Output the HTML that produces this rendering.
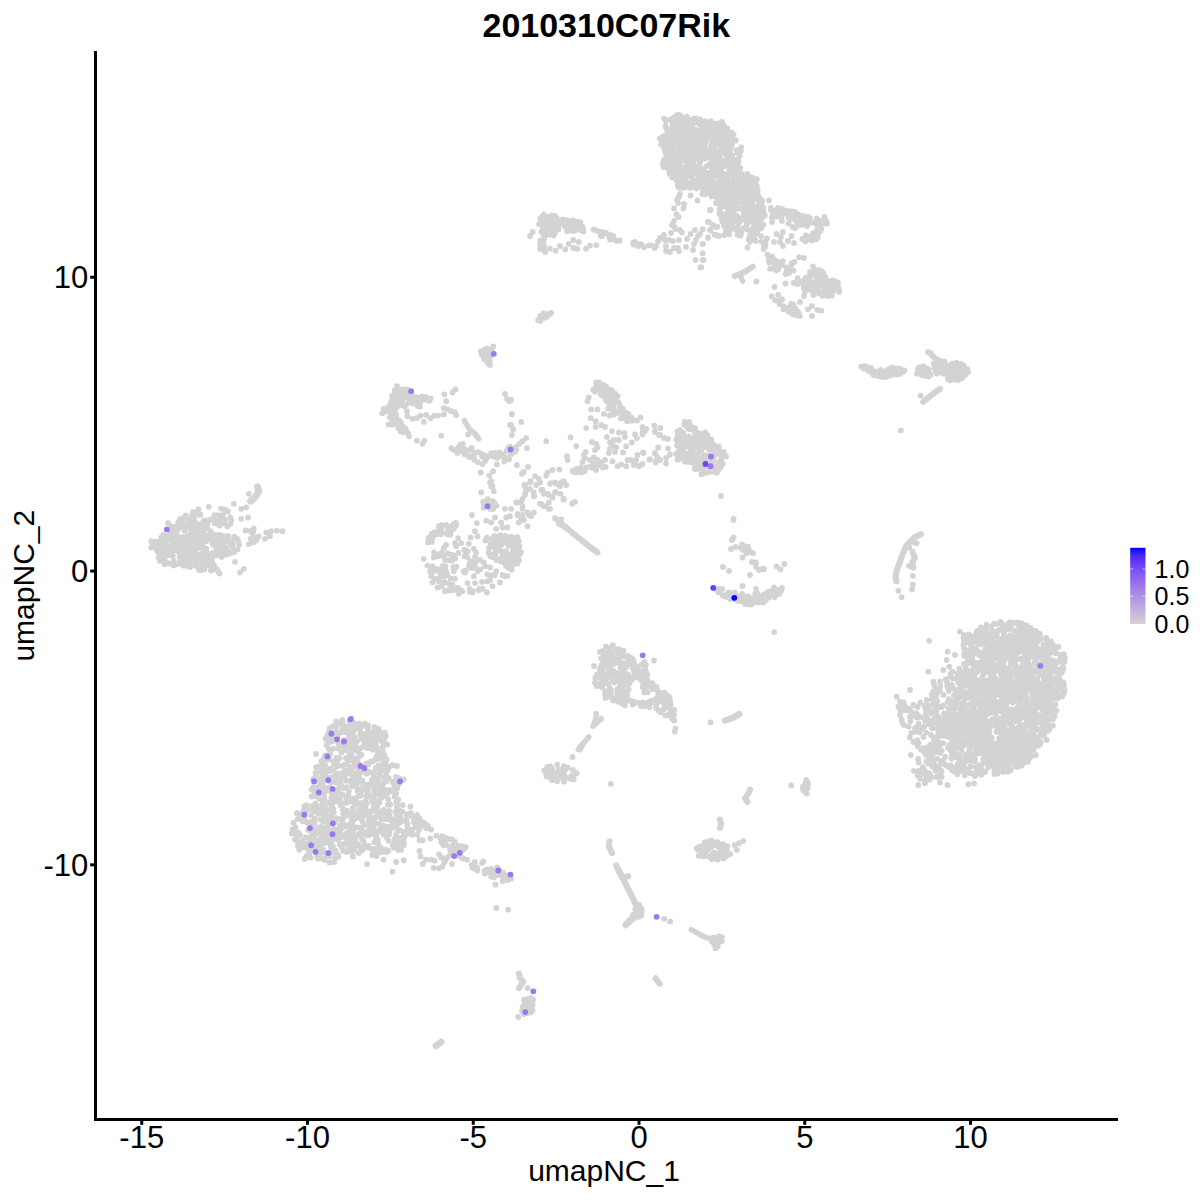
<!DOCTYPE html>
<html><head><meta charset="utf-8"><title>2010310C07Rik</title>
<style>html,body{margin:0;padding:0;background:#fff;} svg{display:block;}</style></head>
<body><svg width="1200" height="1200" viewBox="0 0 1200 1200">
<rect width="1200" height="1200" fill="#fff"/>
<g fill="#D3D3D3" stroke="none">
</g>
<g fill="none" stroke="#D3D3D3" stroke-linecap="round" stroke-linejoin="round">
<polyline stroke-width="6.0" points="734.7,276.0 740.0,274.0 746.7,270.7 752.7,266.7"/>
<polyline stroke-width="5.3" points="740.0,274.7 742.7,281.3"/>
<polyline stroke-width="5.6" points="593.3,229.3 600.0,232.0 605.3,232.7 610.7,237.3 616.0,240.7 619.3,240.7"/>
<polyline stroke-width="5.6" points="633.3,242.7 637.3,245.3 640.7,244.0 644.0,247.3"/>
<polyline stroke-width="6.0" points="923.1,401.9 930.0,396.2 935.0,392.5 940.0,388.8"/>
<polyline stroke-width="5.6" points="464.4,420.6 467.5,426.2 470.0,430.0 475.0,433.8 478.8,438.8"/>
<polyline stroke-width="6.0" points="560.0,522.9 567.5,528.8 575.0,535.0 583.3,541.7 591.7,548.3 597.5,552.5"/>
<polyline stroke-width="6.7" points="559.2,523.3 565.0,526.7"/>
<polyline stroke-width="6.9" points="250.6,501.2 255.0,497.5 258.8,491.2 257.5,486.9"/>
<polyline stroke-width="6.2" points="920.8,534.2 915.0,537.1 910.0,541.7 905.8,546.7 903.3,552.5 901.2,558.3 898.8,565.0 896.7,570.8 895.4,576.7 896.5,581.2"/>
<polyline stroke-width="5.8" points="911.7,540.8 916.7,543.3"/>
<polyline stroke-width="6.0" points="912.5,551.7 915.0,558.3 912.5,561.7 913.3,567.5"/>
<polyline stroke-width="6.0" points="909.2,565.8 913.3,567.5"/>
<polyline stroke-width="5.0" points="596.5,713.5 595.0,720.0 593.0,726.0"/>
<polyline stroke-width="5.0" points="601.0,718.5 597.0,723.0"/>
<polyline stroke-width="5.0" points="588.5,737.0 584.0,743.0 580.0,750.0"/>
<polyline stroke-width="6.5" points="725.0,720.5 732.5,718.0 739.2,714.2"/>
<polyline stroke-width="6.0" points="750.0,789.5 748.8,793.0 745.0,798.2 747.5,802.0"/>
<polyline stroke-width="6.0" points="720.0,819.5 721.2,823.8 720.0,828.0"/>
<polyline stroke-width="6.0" points="609.5,841.2 608.8,846.2 612.0,853.0"/>
<polyline stroke-width="6.0" points="616.2,865.5 620.0,872.5 622.5,878.0 628.0,876.2"/>
<polyline stroke-width="5.5" points="578.2,749.5 582.5,743.8 588.8,737.0"/>
<polyline stroke-width="5.5" points="593.0,726.2 597.5,722.0"/>
<polyline stroke-width="6.1" points="618.7,871.1 624.1,880.8 628.4,889.5 632.8,898.2 637.1,906.8 636.0,913.3 631.7,919.8 625.6,925.3"/>
<polyline stroke-width="5.6" points="691.3,929.6 698.9,933.9 705.4,937.2 711.9,939.3"/>
<polyline stroke-width="6.1" points="655.5,978.3 659.8,983.8"/>
<polyline stroke-width="6.1" points="519.0,973.6 520.1,978.3 523.3,981.6 519.0,988.1"/>
<polyline stroke-width="6.6" points="435.8,1045.9 441.2,1042.0"/>
</g>
<path fill="none" stroke="#D3D3D3" stroke-width="5.8" stroke-linecap="round" d="M697.5 134.8h0M717.8 131.3h0M672.4 160.8h0M716.4 152.3h0M711.4 129.8h0M733.5 134.4h0M749.0 197.4h0M678.0 124.6h0M719.0 193.7h0M683.5 170.6h0M732.5 203.3h0M742.0 174.0h0M678.7 177.7h0M760.6 204.1h0M675.1 138.6h0M715.0 130.8h0M692.9 119.1h0M761.8 213.7h0M740.6 197.6h0M697.4 187.4h0M737.8 166.0h0M693.1 180.0h0M731.4 174.2h0M667.8 131.7h0M676.4 145.1h0M714.8 170.2h0M710.6 133.8h0M722.0 200.4h0M669.5 168.6h0M700.2 133.1h0M729.5 170.0h0M685.2 158.6h0M730.7 149.0h0M666.6 163.7h0M679.7 181.2h0M680.4 128.4h0M689.6 172.2h0M730.8 186.6h0M703.5 153.3h0M712.7 176.1h0M730.1 157.4h0M705.8 142.5h0M735.3 165.9h0M686.9 116.9h0M729.1 181.7h0M721.5 134.2h0M734.1 205.6h0M667.4 146.4h0M679.1 122.6h0M740.9 150.8h0M669.9 129.9h0M680.8 175.6h0M669.1 171.0h0M716.1 185.1h0M701.7 170.6h0M727.7 208.0h0M672.5 175.1h0M665.5 125.7h0M691.3 137.3h0M665.7 137.6h0M676.3 177.6h0M755.2 183.2h0M738.5 174.6h0M672.2 142.6h0M682.8 153.9h0M748.5 213.0h0M753.4 212.6h0M697.4 157.1h0M690.8 175.2h0M718.2 182.8h0M741.6 182.1h0M712.7 192.0h0M751.9 189.1h0M685.3 123.8h0M717.5 199.4h0M691.1 144.8h0M681.2 156.5h0M726.0 192.8h0M703.0 190.1h0M687.0 147.9h0M702.0 156.4h0M669.1 156.1h0M683.2 181.1h0M729.3 212.9h0M699.4 147.6h0M724.0 148.1h0M663.7 140.4h0M721.3 163.5h0M695.3 156.3h0M711.8 167.1h0M744.6 178.4h0M669.6 133.9h0M730.1 195.7h0M720.0 184.6h0M722.8 216.8h0M725.5 139.3h0M674.1 135.1h0M755.8 212.8h0M758.9 201.5h0M673.9 117.6h0M698.4 176.7h0M710.1 125.1h0M736.4 194.3h0M694.8 136.8h0M679.7 149.7h0M708.2 173.7h0M716.9 128.1h0M712.8 153.8h0M700.8 135.7h0M725.4 132.2h0M727.6 177.4h0M757.7 191.8h0M705.8 126.9h0M686.1 128.1h0M735.8 182.9h0M703.5 144.0h0M742.2 186.6h0M727.8 174.4h0M740.8 177.7h0M686.7 154.3h0M708.4 177.6h0M695.6 168.8h0M741.2 201.9h0M722.1 138.2h0M705.2 121.4h0M699.0 130.7h0M693.3 164.7h0M701.8 129.4h0M730.0 152.5h0M722.1 122.0h0M680.4 125.0h0M684.3 142.9h0M679.0 158.0h0M702.8 149.7h0M699.7 143.4h0M732.8 215.1h0M727.0 201.9h0M712.8 160.9h0M676.6 130.5h0M702.1 173.1h0M709.8 193.2h0M718.4 123.4h0M734.8 176.1h0M684.5 152.1h0M729.7 161.3h0M737.7 218.9h0M728.1 186.1h0M724.1 134.9h0M692.2 150.8h0M743.2 200.0h0M755.2 209.8h0M659.9 138.6h0M719.5 138.9h0M747.0 193.7h0M737.3 216.2h0M732.3 218.3h0M707.5 128.5h0M693.4 160.9h0M726.7 151.7h0M699.2 160.1h0M725.5 174.1h0M686.9 166.6h0M742.9 209.6h0M748.6 200.6h0M684.6 120.6h0M720.6 197.2h0M729.4 210.6h0M669.1 148.6h0M720.0 174.0h0M750.7 208.0h0M757.2 219.4h0M696.4 138.2h0M754.6 191.1h0M743.8 213.9h0M691.8 141.7h0M731.5 221.4h0M717.9 159.4h0M665.5 135.2h0M711.8 189.2h0M726.8 157.2h0M727.7 204.5h0M733.7 195.7h0M688.6 124.9h0M719.0 151.2h0M666.7 149.5h0M714.4 123.7h0M753.5 199.5h0M749.0 221.9h0M733.3 179.6h0M699.3 168.3h0M737.0 204.9h0M685.0 183.8h0M737.7 184.8h0M705.2 147.5h0M688.1 143.3h0M731.3 199.3h0M725.6 142.1h0M668.6 141.8h0M714.4 148.7h0M689.3 150.1h0M720.4 132.1h0M737.1 152.8h0M685.2 177.2h0M705.1 182.6h0M709.4 131.1h0M690.8 134.6h0M735.7 169.6h0M721.1 148.8h0M731.7 145.8h0M673.2 147.1h0M744.7 187.0h0M704.5 158.8h0M712.2 142.7h0M722.3 172.8h0M724.6 185.6h0M740.4 168.1h0M686.7 136.6h0M687.8 157.4h0M691.3 167.9h0M677.4 118.4h0M705.0 186.7h0M720.4 180.2h0M719.8 161.8h0M709.0 122.6h0M737.0 197.0h0M723.8 214.7h0M674.9 156.5h0M710.2 152.3h0M696.9 122.7h0M695.7 129.7h0M673.8 154.2h0M747.2 184.2h0M722.0 193.5h0M754.7 217.0h0M679.4 187.7h0M705.8 172.9h0M744.1 219.5h0M690.1 152.6h0M679.3 137.3h0M738.7 161.7h0M752.8 222.0h0M744.9 205.8h0M664.1 118.7h0M703.8 168.6h0M680.2 170.5h0M748.5 191.8h0M668.3 153.0h0M692.0 155.5h0M678.6 144.3h0M682.2 160.7h0M681.6 118.9h0M710.9 121.2h0M687.0 162.8h0M731.9 143.5h0M713.4 136.4h0M693.3 147.5h0M755.1 196.7h0M683.2 140.6h0M672.4 123.3h0M735.2 187.4h0M689.2 163.4h0M715.6 156.9h0M707.1 166.0h0M671.1 139.1h0M718.6 135.7h0M666.3 128.2h0M692.1 170.1h0M671.1 153.5h0M679.0 164.2h0M745.8 176.1h0M681.4 167.0h0M715.6 143.7h0M697.1 146.0h0M758.4 207.5h0M751.0 191.6h0M756.9 179.2h0M716.1 202.9h0M704.8 132.3h0M727.0 147.8h0M752.9 184.0h0M685.9 180.4h0M749.9 180.0h0M707.7 157.3h0M697.9 149.5h0M740.6 218.9h0M753.0 177.9h0M745.0 195.7h0M666.3 166.9h0M695.7 171.5h0M666.6 140.2h0M724.2 145.1h0M676.9 135.6h0M704.6 194.4h0M758.2 195.7h0M712.9 139.4h0M729.4 191.4h0M711.4 146.2h0M683.7 156.2h0M727.2 128.3h0M675.0 123.4h0M746.7 199.1h0M752.6 181.0h0M739.6 221.9h0M710.5 163.0h0M757.5 189.3h0M711.4 156.7h0M744.2 192.4h0M724.1 189.5h0M702.8 176.5h0M699.1 164.8h0M681.9 137.7h0M718.2 190.0h0M717.3 166.8h0M729.4 215.4h0M750.6 177.2h0M708.7 185.6h0M698.0 120.3h0M752.1 210.4h0M687.9 120.0h0M669.7 163.2h0M692.5 123.8h0M689.6 141.1h0M741.2 147.1h0M719.3 145.0h0M711.7 150.1h0M748.9 185.8h0M676.8 172.2h0M697.4 184.1h0M700.2 162.5h0M724.6 195.6h0M735.9 208.5h0M687.7 182.9h0M735.9 140.4h0M724.3 199.5h0M666.1 144.3h0M666.7 158.4h0M715.4 162.5h0M695.7 118.3h0M672.5 164.6h0M673.4 172.7h0M713.7 151.3h0M727.5 190.0h0M674.6 163.1h0M668.2 136.0h0M754.4 187.0h0M703.1 184.3h0M733.9 211.9h0M664.0 159.8h0M700.1 182.7h0M725.8 206.7h0M720.8 128.6h0M724.6 219.4h0M678.1 161.2h0M664.0 148.3h0M732.1 156.0h0M745.1 189.9h0M739.9 188.8h0M746.1 217.9h0M724.0 202.0h0M720.8 176.9h0M711.4 183.9h0M732.0 164.2h0M701.4 185.8h0M702.5 131.6h0M667.8 160.5h0M665.1 151.4h0M723.3 176.4h0M683.2 128.1h0M738.7 191.2h0M743.7 182.6h0M726.0 182.6h0M759.6 219.9h0M761.9 200.7h0M752.4 204.3h0M694.7 141.6h0M689.2 128.6h0M689.2 147.4h0M752.6 195.7h0M715.3 140.6h0M733.2 139.7h0M681.3 144.1h0M717.0 154.8h0M720.2 158.1h0M688.8 132.9h0M743.1 217.1h0M707.9 150.1h0M726.4 214.0h0M697.8 180.5h0M711.2 171.6h0M678.1 142.1h0M712.3 164.3h0M747.8 181.6h0M726.1 221.4h0M713.4 181.3h0M731.4 166.9h0M731.7 190.3h0M731.5 206.6h0M734.9 216.3h0M692.2 132.1h0M697.4 152.1h0M672.0 128.1h0M687.7 176.1h0M724.2 179.4h0M694.3 173.4h0M716.8 171.5h0M719.6 155.8h0M672.1 158.3h0M722.0 141.3h0M708.0 153.6h0M700.3 124.6h0M740.9 208.1h0M688.4 160.6h0M739.7 155.7h0M662.1 137.2h0M756.7 185.6h0M705.6 156.0h0M709.4 136.8h0M686.3 185.7h0M679.8 134.1h0M700.7 151.6h0M698.7 170.7h0M718.1 177.0h0M673.8 151.8h0M702.7 122.9h0M754.5 207.1h0M752.8 219.3h0M745.2 201.2h0M677.4 147.1h0M747.4 215.0h0M720.0 211.4h0M713.9 126.1h0M719.6 209.0h0M676.7 115.2h0M715.7 173.7h0M704.7 177.8h0M674.1 144.2h0M676.5 166.4h0M731.6 132.5h0M686.1 139.6h0M661.0 144.1h0M683.3 133.1h0M762.3 210.8h0M722.6 183.6h0M751.2 212.6h0M692.1 128.7h0M731.0 137.8h0M672.7 168.3h0M695.5 186.3h0M725.4 160.7h0M683.2 124.2h0M732.1 182.1h0M717.3 125.6h0M700.1 119.3h0M759.6 211.6h0M693.3 186.9h0M694.8 166.4h0M677.0 128.2h0M676.8 180.7h0M708.7 190.9h0M703.4 140.8h0M725.5 217.2h0M737.9 169.6h0M706.8 140.2h0M728.1 135.5h0M700.7 138.2h0M737.3 180.8h0M720.5 191.5h0M708.5 182.3h0M680.8 147.2h0M690.7 165.3h0M704.2 135.2h0M747.4 206.0h0M748.1 176.0h0M755.0 180.5h0M695.0 150.7h0M723.4 166.4h0M751.5 215.3h0M716.0 191.3h0M680.4 131.6h0M740.2 192.8h0M694.5 158.8h0M713.9 190.1h0M747.0 209.0h0M750.5 182.3h0M666.1 156.0h0M735.2 161.4h0M734.6 219.0h0M736.4 220.8h0M710.2 165.5h0M716.7 197.2h0M721.3 188.9h0M729.3 165.9h0M723.3 153.2h0M748.5 188.4h0M707.7 134.0h0M674.3 141.8h0M747.6 202.7h0M737.3 172.0h0M682.5 183.8h0M692.0 177.1h0M761.5 207.4h0M671.9 177.3h0M729.2 146.5h0M702.4 179.6h0M662.6 163.8h0M716.2 137.4h0M733.0 172.3h0M674.9 132.4h0M718.5 141.2h0M713.9 196.0h0M736.7 150.1h0M703.1 146.2h0M684.9 146.8h0M682.8 130.8h0M730.9 140.4h0M726.0 165.4h0M744.7 211.9h0M719.5 165.1h0M680.9 141.7h0M700.3 177.8h0M720.3 168.5h0M728.2 149.8h0M688.9 169.9h0M735.9 192.1h0M711.4 180.2h0M685.9 169.0h0M724.9 128.2h0M674.8 169.8h0M670.6 119.5h0M700.0 157.8h0M666.0 120.5h0M722.4 221.7h0M733.0 159.1h0M669.8 174.0h0M721.2 206.9h0M738.1 187.2h0M723.7 125.4h0M678.9 114.8h0M691.2 182.8h0M737.2 200.2h0M678.0 153.6h0M694.0 182.2h0M718.4 203.1h0M719.9 201.2h0M737.5 159.3h0M729.1 141.9h0M679.3 168.0h0M682.6 187.9h0M748.9 218.6h0M738.1 208.7h0M685.3 173.0h0M681.0 116.1h0M725.2 137.0h0M702.0 127.2h0M663.6 167.2h0M729.3 132.3h0M727.0 199.1h0M706.3 137.5h0M696.3 188.6h0M677.7 186.0h0M690.0 187.9h0M686.3 187.0h0M989.4 760.4h0M983.1 710.0h0M1014.7 660.7h0M1033.3 706.7h0M985.5 635.7h0M1016.3 633.8h0M985.6 656.0h0M1038.1 745.7h0M1021.7 686.4h0M1048.4 681.7h0M964.8 719.2h0M1045.1 686.5h0M1004.7 717.2h0M1010.8 760.0h0M1027.8 749.0h0M1020.0 629.5h0M1017.6 754.9h0M1053.0 710.5h0M979.1 709.9h0M976.4 699.2h0M1005.8 762.4h0M1044.3 711.6h0M1018.4 688.1h0M964.7 672.7h0M977.3 653.6h0M972.0 722.2h0M991.0 657.7h0M986.3 748.6h0M1018.6 692.8h0M1045.4 714.5h0M1010.6 713.2h0M993.9 624.0h0M969.7 671.2h0M1012.8 747.9h0M1025.6 653.3h0M1050.9 652.7h0M1047.6 684.0h0M1045.3 726.1h0M1058.3 646.9h0M995.4 651.0h0M975.3 682.6h0M973.6 642.4h0M1001.7 692.1h0M995.4 767.6h0M1015.3 639.8h0M1028.6 657.0h0M1012.6 642.5h0M1028.0 652.7h0M1013.8 636.6h0M972.3 687.3h0M1031.7 691.6h0M1052.8 704.7h0M978.2 651.1h0M1006.1 680.1h0M1017.9 762.2h0M1032.2 640.6h0M1051.9 665.5h0M1042.5 727.4h0M976.5 637.4h0M987.1 726.4h0M1007.2 702.4h0M1030.9 741.7h0M1009.4 751.0h0M1025.8 743.8h0M1022.1 754.6h0M1022.4 717.3h0M1012.7 657.3h0M1036.1 719.6h0M1002.0 704.6h0M982.4 679.1h0M1005.7 712.7h0M1006.7 689.6h0M994.6 645.7h0M968.2 691.9h0M971.5 641.8h0M1013.3 686.2h0M984.8 695.2h0M1004.4 626.2h0M1004.7 660.1h0M1019.9 645.4h0M1055.9 682.2h0M1055.7 677.9h0M1008.4 649.9h0M1022.1 659.9h0M1051.3 668.9h0M1055.5 704.4h0M992.4 719.3h0M975.1 694.5h0M1000.4 657.6h0M987.1 651.3h0M958.6 697.2h0M1051.5 686.2h0M1059.7 659.8h0M968.3 732.7h0M1004.8 742.5h0M1022.2 733.5h0M1015.9 698.4h0M1007.5 722.3h0M980.6 686.5h0M975.6 735.0h0M1046.8 647.0h0M1025.0 629.3h0M980.9 707.4h0M1043.0 659.6h0M1001.3 727.9h0M1029.5 649.0h0M1007.9 768.5h0M986.6 709.6h0M997.5 623.8h0M1058.3 675.2h0M1064.1 693.1h0M1011.0 665.1h0M978.4 745.0h0M1022.4 758.4h0M987.9 671.4h0M1026.6 698.3h0M1058.4 682.4h0M989.9 673.7h0M998.6 690.1h0M1055.1 665.0h0M1049.5 729.5h0M956.9 692.0h0M1000.7 733.0h0M1035.8 723.4h0M1012.5 718.7h0M1047.4 651.6h0M965.4 734.7h0M997.6 763.2h0M1025.3 668.9h0M1034.8 700.4h0M1016.1 708.9h0M954.6 709.4h0M1015.5 760.5h0M1015.5 642.1h0M1039.4 702.9h0M996.4 717.7h0M1020.7 712.4h0M1048.1 673.0h0M969.4 713.8h0M1048.3 712.3h0M1044.3 729.6h0M1018.4 727.7h0M1016.1 653.8h0M1025.9 705.5h0M962.7 702.9h0M1022.8 633.0h0M1037.0 648.0h0M999.9 638.8h0M1010.5 635.3h0M1029.3 716.9h0M986.6 632.5h0M1027.0 665.3h0M982.4 734.6h0M1022.4 727.8h0M985.9 668.8h0M1021.7 651.4h0M971.1 663.0h0M960.5 686.8h0M1026.7 625.4h0M976.4 662.9h0M989.4 737.4h0M993.0 661.9h0M966.1 654.0h0M1014.5 749.8h0M1032.0 674.8h0M1050.0 719.6h0M1027.3 671.7h0M1000.9 722.6h0M965.6 668.3h0M991.6 712.9h0M972.7 713.0h0M1025.2 731.5h0M963.5 676.6h0M1057.1 690.3h0M987.2 680.6h0M1030.5 636.8h0M996.8 633.7h0M1024.3 626.8h0M1006.2 671.9h0M1004.5 642.7h0M963.8 647.5h0M968.3 718.2h0M964.8 686.2h0M975.7 715.4h0M986.9 703.8h0M1006.6 675.1h0M1003.4 769.6h0M965.9 665.8h0M999.0 629.9h0M1031.4 687.6h0M995.5 683.6h0M983.6 746.3h0M967.8 728.4h0M962.3 731.1h0M990.1 643.7h0M1040.1 673.1h0M1047.5 654.5h0M1018.4 701.2h0M1027.1 681.0h0M1001.2 680.8h0M985.3 753.5h0M1034.5 740.0h0M1052.9 714.1h0M1034.1 637.9h0M976.6 720.6h0M1030.3 639.2h0M1014.8 644.5h0M1045.2 649.5h0M973.0 681.7h0M1006.2 685.5h0M983.5 632.1h0M998.3 644.9h0M961.6 672.5h0M1007.8 732.3h0M956.3 722.5h0M970.5 737.3h0M1035.1 705.3h0M1046.0 660.3h0M973.2 736.9h0M993.5 743.2h0M981.0 741.0h0M973.0 716.2h0M1015.8 649.9h0M991.6 756.0h0M1022.3 648.1h0M1012.0 689.2h0M1054.4 668.1h0M993.6 657.7h0M1053.9 683.4h0M1046.8 721.0h0M1063.5 668.7h0M982.0 717.5h0M1042.7 710.0h0M1028.1 687.2h0M957.4 719.4h0M985.9 628.1h0M963.1 696.8h0M1003.9 765.6h0M971.9 730.3h0M1002.3 628.6h0M962.7 722.0h0M992.9 666.4h0M977.0 643.0h0M971.2 698.8h0M963.4 645.0h0M993.5 631.1h0M995.8 713.6h0M989.5 705.7h0M1009.6 733.9h0M1036.0 645.0h0M1009.6 685.9h0M993.8 648.3h0M952.7 701.7h0M992.7 753.6h0M977.4 692.5h0M1009.8 723.8h0M1000.4 750.4h0M996.5 722.5h0M1035.6 630.9h0M950.8 703.8h0M1063.4 682.4h0M1034.0 731.3h0M1033.1 709.1h0M1043.3 650.6h0M983.9 722.5h0M996.5 731.8h0M1005.9 655.1h0M1032.7 632.4h0M1027.0 638.8h0M985.1 648.8h0M987.3 661.1h0M1043.8 680.8h0M1040.1 744.4h0M955.8 705.0h0M987.4 729.0h0M972.1 670.7h0M995.7 686.3h0M1013.7 693.4h0M974.7 635.6h0M1019.8 699.0h0M1020.5 640.6h0M958.0 725.4h0M1019.5 709.7h0M985.3 733.9h0M1010.3 674.6h0M1003.4 713.1h0M965.9 725.5h0M979.8 691.5h0M1042.2 665.9h0M1061.8 684.8h0M1024.4 754.1h0M1031.3 733.7h0M1015.7 665.1h0M1035.1 697.3h0M982.7 676.2h0M994.2 680.3h0M1034.2 736.9h0M1058.5 695.5h0M1007.6 681.7h0M995.2 756.4h0M953.7 713.1h0M997.9 769.2h0M1003.4 664.0h0M978.6 687.5h0M1028.0 761.8h0M1000.0 763.7h0M971.0 644.7h0M1010.6 625.1h0M1006.3 705.1h0M968.1 652.5h0M987.5 744.9h0M1000.3 770.7h0M1025.9 701.7h0M1010.9 639.6h0M984.9 684.1h0M950.1 712.2h0M1043.8 677.8h0M991.5 637.9h0M980.2 713.4h0M1051.0 708.4h0M1042.6 653.2h0M1002.1 697.8h0M983.0 641.2h0M982.5 634.9h0M964.5 730.5h0M997.5 658.0h0M1034.7 684.0h0M1062.1 659.3h0M1022.4 644.3h0M1018.7 643.5h0M1022.4 683.6h0M963.7 724.8h0M986.7 643.5h0M1039.8 633.6h0M989.5 729.9h0M1022.8 738.4h0M990.1 710.7h0M1021.7 680.4h0M1048.4 645.3h0M1025.5 736.5h0M988.0 752.2h0M964.8 695.4h0M1013.7 728.3h0M970.8 651.7h0M1007.3 698.9h0M968.1 674.4h0M1019.3 731.8h0M1030.2 744.3h0M1044.9 666.9h0M1004.0 666.6h0M1045.3 684.3h0M1050.7 691.8h0M1008.9 644.6h0M1008.6 710.1h0M1046.4 699.4h0M994.7 664.3h0M987.3 731.7h0M1030.5 633.8h0M1044.5 723.3h0M1028.2 756.5h0M1015.3 681.3h0M997.7 729.1h0M969.4 636.7h0M973.3 708.4h0M1009.6 763.5h0M953.5 720.5h0M965.1 683.9h0M988.6 634.0h0M1003.9 708.5h0M964.2 634.8h0M1052.9 644.7h0M1004.9 699.1h0M995.7 759.1h0M1035.6 715.7h0M1018.0 677.8h0M1020.0 703.7h0M998.2 665.4h0M991.5 680.3h0M1032.2 720.2h0M1036.6 652.8h0M999.5 695.1h0M1010.6 700.7h0M985.1 730.1h0M1005.9 730.0h0M1027.3 689.3h0M1021.8 743.3h0M1031.8 672.1h0M1018.9 715.2h0M1011.9 694.7h0M1046.4 703.8h0M1022.3 623.9h0M988.5 700.9h0M967.0 682.6h0M1061.0 669.2h0M970.6 720.4h0M964.5 700.1h0M1004.0 756.2h0M1041.6 685.1h0M981.0 748.6h0M1007.8 771.7h0M1025.7 634.2h0M990.6 746.7h0M967.1 722.8h0M1057.6 698.3h0M1040.5 664.1h0M991.3 750.6h0M991.0 677.3h0M1020.8 696.9h0M993.5 765.5h0M1021.8 694.4h0M1029.6 671.2h0M980.2 752.2h0M1038.0 641.2h0M1009.6 741.8h0M1048.6 696.2h0M959.1 703.0h0M1034.1 746.8h0M1029.9 711.6h0M1046.4 710.2h0M984.0 702.7h0M976.7 729.3h0M1007.6 636.8h0M1015.7 737.4h0M977.5 671.4h0M1006.5 652.1h0M1040.7 697.5h0M966.4 639.9h0M1049.4 726.0h0M960.1 720.8h0M1053.1 678.4h0M1037.9 737.3h0M1019.9 735.7h0M1000.0 683.9h0M1010.9 729.6h0M981.5 682.2h0M1024.0 662.3h0M1038.4 686.7h0M970.9 741.7h0M964.9 704.3h0M962.9 682.0h0M992.5 644.0h0M965.8 711.7h0M1015.1 712.6h0M982.7 692.0h0M968.3 724.7h0M973.6 700.4h0M1053.6 707.9h0M999.0 746.9h0M1043.8 673.0h0M1021.8 762.4h0M1011.4 725.6h0M966.6 650.4h0M1005.9 770.1h0M1019.6 738.1h0M1027.6 684.9h0M1025.6 746.2h0M972.4 660.4h0M1039.6 669.4h0M1051.2 660.1h0M1037.2 678.7h0M1033.2 645.3h0M979.0 641.9h0M1009.6 692.8h0M1024.2 762.7h0M1059.5 672.6h0M994.7 671.7h0M980.8 726.3h0M961.9 691.1h0M1046.1 690.7h0M1043.6 691.7h0M1028.1 659.6h0M987.0 665.1h0M1025.9 645.9h0M1038.0 707.4h0M964.0 641.5h0M1050.3 675.1h0M1014.8 733.6h0M981.3 653.3h0M990.1 726.9h0M1016.1 716.7h0M1034.8 711.2h0M957.8 715.0h0M968.0 740.3h0M967.6 661.4h0M1001.7 755.8h0M969.6 677.9h0M1035.8 672.7h0M1051.0 682.5h0M1023.0 709.4h0M972.5 692.1h0M1007.0 737.3h0M982.0 684.3h0M1003.1 738.4h0M1026.8 733.7h0M1028.1 628.0h0M967.3 697.7h0M1028.9 719.5h0M999.4 757.7h0M1003.0 675.2h0M996.6 648.2h0M1008.6 629.4h0M991.4 721.7h0M992.3 672.3h0M1016.3 622.7h0M983.8 689.6h0M998.5 742.6h0M1031.1 731.4h0M964.0 663.8h0M1024.0 675.1h0M963.2 709.1h0M1048.5 657.3h0M1003.4 647.6h0M967.0 656.8h0M1004.4 703.5h0M951.9 716.8h0M992.4 652.3h0M1025.7 723.8h0M994.1 640.7h0M1004.7 710.7h0M1012.0 650.7h0M1030.2 752.4h0M1002.4 670.7h0M995.3 678.4h0M1056.7 662.8h0M992.8 748.3h0M985.9 699.3h0M1023.7 725.8h0M1000.4 647.5h0M1031.6 667.8h0M1011.4 628.8h0M1048.1 705.8h0M1018.3 749.9h0M988.5 685.9h0M983.9 666.7h0M967.6 735.2h0M1015.7 671.5h0M1036.4 688.9h0M1006.9 647.7h0M1035.6 728.5h0M992.2 690.3h0M1053.6 671.0h0M989.3 636.3h0M1007.0 717.8h0M1019.9 667.9h0M979.5 662.8h0M956.2 707.4h0M1019.8 724.4h0M1054.0 660.9h0M1031.0 756.5h0M1052.9 725.7h0M1016.0 667.5h0M997.1 710.5h0M1008.4 765.9h0M1024.6 660.0h0M972.8 739.8h0M1011.9 716.5h0M1012.5 741.4h0M1028.8 759.6h0M1040.2 652.7h0M994.9 695.1h0M1000.6 664.5h0M1008.6 747.6h0M1029.0 644.9h0M1012.0 681.4h0M979.4 633.8h0M985.1 715.8h0M1010.7 661.9h0M1026.0 741.4h0M1044.6 719.5h0M1003.9 632.0h0M1042.2 705.9h0M980.8 699.7h0M982.5 659.4h0M966.8 642.5h0M1006.7 626.1h0M998.8 681.2h0M979.6 703.5h0M978.0 664.8h0M1047.7 664.3h0M1025.5 687.3h0M1000.7 673.1h0M1052.0 698.4h0M981.6 737.3h0M1034.3 647.4h0M1009.4 668.2h0M983.4 637.3h0M1020.0 718.8h0M1008.6 654.3h0M973.8 704.7h0M1052.9 719.2h0M1040.1 719.1h0M958.7 727.6h0M964.6 692.6h0M1043.9 735.7h0M1031.9 724.9h0M975.2 673.2h0M1000.7 642.0h0M1029.4 641.4h0M995.2 691.2h0M1021.5 765.7h0M1041.5 699.9h0M981.8 724.1h0M974.4 676.1h0M1015.0 766.3h0M1056.5 669.1h0M977.3 683.8h0M1059.5 678.7h0M1004.3 746.6h0M993.0 685.5h0M1000.8 651.4h0M971.7 648.1h0M1037.5 665.1h0M1056.5 710.8h0M1035.4 694.6h0M1054.7 716.3h0M1016.5 675.1h0M1006.9 641.1h0M978.8 733.7h0M1028.6 663.7h0M1039.6 683.8h0M973.8 727.3h0M972.5 678.1h0M1004.1 722.8h0M1021.2 675.3h0M1025.8 693.4h0M1017.5 659.1h0M977.9 723.7h0M1052.3 695.6h0M970.5 685.3h0M989.7 695.8h0M1037.6 742.0h0M973.0 652.4h0M979.3 705.7h0M980.4 669.5h0M1040.4 649.5h0M1032.2 713.3h0M991.0 741.4h0M1062.2 696.5h0M1003.2 729.5h0M991.7 632.8h0M1037.9 697.4h0M979.3 639.4h0M960.7 711.1h0M970.1 704.3h0M1023.8 678.7h0M963.3 637.7h0M1041.4 731.0h0M1030.1 685.1h0M1018.2 625.6h0M979.9 680.1h0M976.4 688.5h0M991.7 737.4h0M995.7 725.8h0M997.0 655.0h0M980.8 745.7h0M970.4 655.7h0M988.9 668.8h0M995.7 636.1h0M969.3 682.3h0M1001.5 767.7h0M982.9 669.2h0M1001.0 711.3h0M968.7 680.0h0M1004.5 733.2h0M1021.6 751.9h0M1046.1 681.3h0M1030.8 701.2h0M972.5 656.5h0M1011.6 755.2h0M994.5 710.6h0M972.0 726.0h0M1032.2 695.7h0M1007.8 714.9h0M1055.0 693.6h0M971.9 696.2h0M1013.3 698.8h0M1042.8 657.4h0M1041.0 638.5h0M1003.8 752.6h0M1013.2 622.9h0M1038.9 693.2h0M988.6 647.2h0M1039.3 666.3h0M1033.6 749.6h0M1000.4 622.0h0M1032.2 728.1h0M1034.8 679.0h0M951.4 714.6h0M984.3 652.8h0M1029.5 705.3h0M988.7 658.0h0M960.4 689.1h0M974.2 639.5h0M1016.3 731.7h0M1029.5 723.2h0M1015.5 758.0h0M959.3 717.7h0M984.4 661.7h0M1036.9 635.2h0M1013.0 702.5h0M1001.3 718.1h0M1016.1 747.3h0M955.7 699.5h0M1005.8 644.7h0M988.9 742.6h0M1037.5 667.7h0M1000.2 730.2h0M1047.3 731.1h0M1019.8 658.9h0M1026.5 727.0h0M1024.5 716.3h0M999.2 725.7h0M986.5 640.6h0M1007.3 694.4h0M975.6 745.9h0M1062.9 666.6h0M988.1 693.5h0M1034.7 662.4h0M974.3 730.1h0M1030.7 631.0h0M1025.9 676.5h0M1027.7 735.9h0M1007.7 743.8h0M978.6 695.1h0M973.6 666.8h0M1043.3 696.6h0M1029.7 665.6h0M1047.9 717.7h0M1047.1 640.1h0M994.6 653.3h0M984.8 658.6h0M1061.8 690.1h0M1015.8 647.3h0M991.6 704.4h0M1002.7 685.6h0M1000.1 708.1h0M996.2 745.3h0M967.9 684.8h0M1012.5 762.4h0M989.4 651.6h0M986.6 624.7h0M1018.3 758.5h0M1047.8 661.8h0M994.0 676.3h0M1004.0 687.5h0M1037.5 682.1h0M1064.8 657.7h0M1041.5 690.8h0M1003.6 762.0h0M1050.8 641.2h0M1046.2 638.0h0M1028.1 635.5h0M989.3 664.5h0M982.1 628.6h0M988.9 733.9h0M1054.6 698.3h0M985.1 740.6h0M957.0 695.6h0M990.2 655.4h0M1023.4 639.3h0M1024.6 713.0h0M1033.5 657.0h0M1001.7 720.4h0M1045.6 675.7h0M969.0 650.1h0M1013.7 663.4h0M1027.4 710.9h0M1021.8 671.2h0M1001.4 746.7h0M977.0 667.1h0M1021.5 635.2h0M1049.0 689.0h0M1033.3 722.6h0M964.4 652.6h0M1000.0 653.9h0M1047.8 679.2h0M1011.1 709.3h0M985.8 743.2h0M996.2 643.7h0M991.1 648.5h0M1063.8 654.2h0M1019.7 650.2h0M970.2 694.5h0M1031.3 703.6h0M1034.7 691.5h0M996.4 720.1h0M1017.7 682.5h0M961.5 677.5h0M1025.7 759.3h0M977.5 631.0h0M985.3 711.7h0M1044.4 669.6h0M970.1 690.6h0M998.1 753.1h0M994.4 751.6h0M1002.1 623.7h0M994.2 668.8h0M1022.8 747.2h0M1034.3 670.8h0M1013.3 722.2h0M1019.8 673.3h0M1033.3 688.9h0M998.6 652.1h0M1001.5 644.9h0M1037.0 637.6h0M994.5 700.1h0M1050.9 711.4h0M984.0 672.9h0M1002.5 660.5h0M1043.4 644.3h0M1015.5 658.0h0M1027.3 661.7h0M1003.9 635.7h0M1061.8 672.8h0M976.5 718.3h0M1053.1 650.8h0M1010.5 647.1h0M1001.4 677.0h0M990.3 698.3h0M981.8 643.8h0M1031.2 646.4h0M987.9 689.2h0M1031.2 680.5h0M961.3 728.7h0M994.7 762.4h0M1033.3 681.2h0M1049.1 642.8h0M987.2 637.6h0M1004.8 736.9h0M1059.6 687.6h0M1004.4 692.6h0M962.7 712.4h0M993.0 757.8h0M1030.4 708.0h0M1016.6 764.2h0M1011.3 652.9h0M1009.8 622.2h0M993.6 707.0h0M1025.0 750.3h0M1060.3 655.0h0M1004.3 720.2h0M1001.1 737.0h0M1031.5 748.1h0M1009.9 656.3h0M1008.1 624.1h0M1011.8 732.5h0M1019.5 756.6h0M1013.1 745.6h0M1050.0 648.5h0M954.0 695.3h0M978.5 717.4h0M1038.8 729.9h0M1041.4 675.1h0M1009.9 770.5h0M1019.1 744.4h0M991.4 743.8h0M1003.1 640.8h0M1043.9 693.9h0M998.5 669.9h0M954.0 707.1h0M978.3 737.6h0M1050.0 703.8h0M980.0 655.4h0M1000.8 742.7h0M1056.2 653.4h0M986.4 755.6h0M1053.3 689.2h0M1024.9 671.1h0M972.1 683.7h0M1061.1 661.7h0M971.2 733.5h0M975.2 648.8h0M1064.0 684.6h0M1032.9 652.0h0M1040.4 695.3h0M1056.2 671.6h0M984.3 630.0h0M984.7 718.3h0M1041.1 723.4h0M967.1 709.7h0M977.5 680.5h0M1004.6 726.9h0M1021.4 700.9h0M1053.3 647.0h0M1064.5 661.5h0M1031.2 655.9h0M1025.5 631.5h0M990.1 682.1h0M980.3 722.1h0M966.8 670.4h0M960.9 708.9h0M1044.7 732.6h0M961.3 675.3h0M1046.4 693.3h0M1028.1 631.3h0M990.6 627.0h0M1030.6 738.8h0M1017.8 767.1h0M1050.0 699.8h0M962.1 684.6h0M1007.5 656.6h0M1036.7 713.8h0M970.2 727.7h0M992.7 760.3h0M975.6 712.3h0M1018.3 721.8h0M1012.6 757.3h0M1016.6 685.9h0M1011.8 671.5h0M959.8 695.3h0M968.9 634.5h0M1023.2 697.8h0M1004.5 629.9h0M976.1 739.4h0M1050.6 677.3h0M965.6 679.3h0M1021.0 745.6h0M1014.6 630.8h0M1011.2 677.8h0M1036.8 632.7h0M1026.9 752.0h0M1022.7 664.3h0M1027.5 643.1h0M999.4 702.0h0M986.8 714.4h0M1001.4 667.0h0M980.6 730.3h0M990.3 702.3h0M1023.7 657.3h0M976.2 731.7h0M950.8 708.2h0M1007.2 749.8h0M1022.3 691.1h0M1044.5 662.9h0M1010.9 736.5h0M1008.5 756.3h0M989.9 690.2h0M1016.1 694.7h0M1016.3 688.9h0M993.3 692.8h0M1035.0 743.5h0M1006.2 753.8h0M1055.5 648.2h0M1026.6 648.1h0M1013.1 736.6h0M1040.8 742.0h0M996.1 748.5h0M1005.5 757.9h0M1013.6 715.1h0M1028.3 675.8h0M1036.8 659.3h0M948.6 708.2h0M1004.5 696.0h0M982.9 743.7h0M996.8 704.1h0M984.8 751.3h0M1030.7 627.8h0M1042.0 703.0h0M979.0 644.6h0M1040.3 735.4h0M1014.5 755.1h0M1019.7 623.0h0M1043.6 647.6h0M1037.0 662.7h0M962.5 707.0h0M984.3 737.0h0M1003.9 683.2h0M1018.4 652.4h0M1016.7 741.7h0M984.4 725.3h0M1047.1 668.4h0M1018.4 706.9h0M1017.8 638.3h0M1036.4 655.3h0M1004.0 651.3h0M1022.4 707.2h0M981.8 701.9h0M1040.8 715.6h0M1041.5 670.8h0M1033.5 734.1h0M970.5 710.6h0M999.1 738.2h0M977.2 703.0h0M975.1 696.9h0M1038.3 656.5h0M1026.2 718.2h0M1017.2 631.8h0M982.3 705.7h0M991.8 675.1h0M966.3 714.7h0M1001.6 689.0h0M1057.7 684.5h0M1007.2 677.9h0M999.5 659.9h0M977.6 741.2h0M998.5 687.9h0M1033.1 715.9h0M976.7 748.8h0M964.3 655.5h0M1064.5 689.7h0M1060.5 681.4h0M984.0 707.3h0M984.1 757.4h0M964.0 714.6h0M972.7 673.0h0M987.3 721.4h0M831.7 285.1h0M839.0 289.5h0M831.7 295.7h0M824.9 295.1h0M804.1 279.8h0M808.7 281.5h0M815.5 292.4h0M814.5 269.4h0M821.9 271.3h0M817.6 271.9h0M815.2 285.8h0M816.2 275.9h0M834.5 288.4h0M821.8 286.1h0M829.5 288.6h0M818.9 284.9h0M821.2 283.8h0M822.2 295.8h0M811.0 290.4h0M812.0 287.6h0M817.1 287.0h0M808.8 276.6h0M805.9 287.5h0M826.1 283.2h0M814.7 288.8h0M806.6 284.0h0M827.5 290.7h0M832.2 280.5h0M816.6 279.9h0M808.5 287.9h0M818.7 293.0h0M821.5 275.5h0M824.6 280.8h0M835.8 286.4h0M804.9 291.7h0M823.2 291.1h0M826.9 280.8h0M813.4 294.9h0M829.5 282.5h0M833.2 291.6h0M838.0 282.9h0M803.6 287.8h0M835.4 281.3h0M828.0 296.1h0M818.8 279.0h0M825.8 277.4h0M806.9 279.9h0M802.5 283.1h0M809.9 285.0h0M817.2 289.7h0M821.8 292.9h0M819.3 270.1h0M838.0 286.7h0M809.9 279.4h0M825.2 286.4h0M823.4 277.9h0M839.2 291.8h0M805.9 277.5h0M813.4 283.0h0M820.1 273.0h0M812.8 271.7h0M823.4 273.2h0M810.9 275.0h0M547.0 314.2h0M540.4 315.8h0M544.7 317.8h0M549.3 314.6h0M538.1 320.2h0M540.3 321.1h0M543.3 313.4h0M543.3 316.0h0M551.2 313.0h0M542.0 318.1h0M546.7 317.0h0M935.7 358.7h0M954.6 377.3h0M930.8 353.2h0M949.4 365.3h0M952.2 363.6h0M940.4 368.1h0M960.0 373.5h0M950.6 372.9h0M942.4 361.3h0M963.1 377.0h0M963.0 370.1h0M954.6 365.2h0M943.0 366.1h0M938.6 371.2h0M967.4 369.1h0M944.7 361.6h0M958.4 370.0h0M938.8 360.2h0M963.6 365.4h0M965.4 374.6h0M961.1 378.6h0M962.9 373.9h0M938.2 366.0h0M952.4 366.1h0M946.9 368.1h0M934.4 367.7h0M950.4 370.3h0M950.6 376.2h0M932.0 355.4h0M961.1 363.9h0M946.0 366.0h0M956.0 379.8h0M946.0 373.2h0M933.8 363.4h0M960.6 368.0h0M948.0 374.3h0M928.0 352.2h0M936.8 373.6h0M952.7 368.9h0M937.1 368.0h0M965.1 371.8h0M952.5 379.4h0M940.8 372.6h0M936.4 361.4h0M948.0 379.3h0M933.6 357.0h0M956.6 362.6h0M948.1 377.0h0M944.2 369.8h0M935.2 370.3h0M957.4 375.7h0M964.3 367.6h0M952.9 372.4h0M954.3 374.2h0M939.1 362.8h0M955.5 371.0h0M958.3 380.0h0M958.0 365.7h0M942.0 363.6h0M960.8 371.2h0M968.1 372.1h0M956.6 373.3h0M943.8 373.8h0M950.2 380.4h0M490.3 356.6h0M489.1 354.0h0M484.9 355.2h0M486.8 348.6h0M481.7 354.3h0M486.6 352.4h0M493.2 346.3h0M488.0 363.5h0M487.8 360.0h0M483.0 352.4h0M492.0 349.0h0M484.5 359.5h0M480.8 351.4h0M484.2 349.9h0M489.8 361.1h0M487.0 357.7h0M489.9 364.9h0M490.7 352.3h0M483.7 357.5h0M966.7 761.5h0M1003.2 771.9h0M994.3 766.3h0M952.9 713.5h0M950.7 765.1h0M935.1 765.6h0M969.8 747.8h0M952.1 769.9h0M966.1 743.8h0M944.5 715.2h0M961.0 730.8h0M952.3 711.3h0M937.7 768.0h0M975.0 747.4h0M969.3 745.7h0M970.0 755.6h0M981.0 768.8h0M958.6 728.6h0M943.8 763.2h0M936.9 749.3h0M963.3 745.6h0M939.8 769.5h0M954.7 745.3h0M965.8 768.9h0M959.2 737.2h0M960.3 748.1h0M954.5 722.1h0M942.3 726.1h0M931.9 747.2h0M941.9 729.3h0M945.8 720.7h0M1000.7 767.0h0M934.5 741.5h0M962.2 765.0h0M952.8 720.5h0M948.1 747.8h0M948.3 766.8h0M983.4 759.5h0M1010.5 770.0h0M999.8 770.3h0M945.1 726.9h0M936.2 752.3h0M981.3 774.8h0M955.0 739.3h0M953.4 751.1h0M965.0 741.8h0M976.0 753.7h0M954.3 771.5h0M932.7 757.9h0M940.7 763.6h0M965.0 739.3h0M929.0 753.7h0M940.0 742.7h0M963.1 757.2h0M947.1 731.1h0M947.4 736.8h0M951.7 748.0h0M955.9 748.8h0M971.8 758.6h0M939.4 746.6h0M974.8 761.5h0M994.4 774.0h0M990.8 765.5h0M971.5 739.2h0M943.2 720.8h0M950.0 725.6h0M963.1 733.3h0M932.9 753.0h0M958.6 733.2h0M953.5 735.2h0M981.9 764.6h0M951.3 734.3h0M944.4 732.8h0M951.8 740.6h0M979.4 765.3h0M979.6 772.0h0M954.9 731.2h0M940.2 753.1h0M977.1 772.8h0M957.5 771.7h0M945.1 757.0h0M957.5 764.2h0M937.2 758.8h0M935.2 769.0h0M962.4 769.5h0M956.1 767.1h0M964.8 775.3h0M955.0 718.7h0M930.3 744.6h0M960.1 771.0h0M987.5 763.3h0M966.6 754.4h0M994.4 770.5h0M962.5 740.1h0M975.6 749.6h0M973.7 773.1h0M958.0 725.3h0M969.0 751.4h0M951.4 716.4h0M968.6 757.9h0M970.6 753.4h0M941.9 760.6h0M956.2 754.2h0M945.9 765.2h0M970.6 766.4h0M942.0 722.9h0M936.5 736.8h0M941.8 750.8h0M949.9 736.4h0M978.7 753.4h0M952.5 723.4h0M952.7 743.7h0M964.0 766.4h0M938.4 734.1h0M963.0 743.1h0M955.6 725.0h0M964.4 772.0h0M929.2 756.3h0M941.1 771.7h0M961.9 727.1h0M985.0 772.0h0M937.9 744.0h0M961.6 750.9h0M949.6 723.0h0M951.6 756.0h0M986.4 754.3h0M957.0 742.1h0M939.6 736.1h0M968.7 771.4h0M962.1 761.8h0M977.5 746.2h0M957.1 757.5h0M943.2 743.2h0M960.3 723.9h0M950.7 750.4h0M971.1 760.9h0M997.5 773.4h0M966.2 734.8h0M966.4 732.0h0M981.4 750.3h0M975.0 776.1h0M944.5 723.0h0M931.3 750.1h0M982.2 752.7h0M944.6 717.6h0M998.4 768.1h0M957.4 735.3h0M975.0 759.2h0M933.7 745.1h0M988.2 767.4h0M950.9 727.9h0M1008.4 770.7h0M959.8 744.6h0M959.4 759.5h0M940.5 731.7h0M936.6 740.5h0M965.2 758.6h0M960.6 742.5h0M957.3 774.2h0M970.5 773.4h0M931.6 764.4h0M949.3 745.1h0M952.3 731.4h0M951.5 758.5h0M948.0 724.7h0M976.0 767.4h0M944.6 735.8h0M945.4 729.2h0M933.9 750.9h0M973.2 744.4h0M959.5 768.0h0M990.8 759.8h0M982.6 770.9h0M933.9 760.7h0M958.9 756.0h0M165.9 542.9h0M206.4 561.8h0M187.9 536.0h0M174.4 534.9h0M212.5 556.6h0M160.5 553.2h0M187.0 543.1h0M190.1 564.9h0M160.7 558.6h0M176.8 531.0h0M175.1 526.6h0M177.2 542.2h0M172.9 540.8h0M215.4 553.3h0M239.1 544.5h0M197.4 539.5h0M175.0 539.7h0M207.8 560.1h0M217.6 538.2h0M173.8 560.6h0M171.8 526.5h0M190.6 542.6h0M157.8 541.7h0M187.9 524.6h0M213.2 552.8h0M208.3 565.3h0M214.1 565.1h0M186.8 558.2h0M225.2 536.6h0M230.4 553.0h0M173.6 537.3h0M217.7 555.0h0M184.6 530.7h0M173.3 531.7h0M199.1 570.0h0M190.8 531.6h0M156.8 549.9h0M193.2 548.4h0M206.2 564.1h0M227.7 541.0h0M183.5 560.6h0M198.4 544.0h0M185.4 545.3h0M211.6 565.5h0M194.3 541.2h0M211.0 553.8h0M168.5 547.0h0M227.6 551.7h0M227.3 554.2h0M192.5 546.2h0M194.5 558.8h0M164.5 540.4h0M234.1 536.7h0M210.9 538.2h0M195.3 551.9h0M204.4 569.4h0M181.3 559.4h0M213.8 569.2h0M206.3 552.1h0M175.9 547.0h0M178.2 529.3h0M195.6 561.9h0M160.1 561.1h0M208.2 535.2h0M185.1 551.6h0M221.5 557.1h0M165.9 556.2h0M164.2 537.6h0M190.6 528.0h0M210.4 534.9h0M197.3 554.4h0M216.3 551.1h0M202.9 557.6h0M222.7 541.0h0M166.5 535.8h0M169.9 539.5h0M228.1 535.9h0M197.7 561.1h0M212.5 543.9h0M218.1 571.5h0M182.4 555.8h0M199.6 529.8h0M179.6 556.8h0M201.8 553.8h0M189.6 560.4h0M233.9 552.3h0M193.4 532.0h0M182.7 545.6h0M223.1 543.2h0M190.3 549.7h0M161.8 549.7h0M169.5 563.6h0M190.0 567.1h0M173.6 548.5h0M162.0 545.8h0M187.5 551.5h0M183.5 565.7h0M170.2 534.0h0M199.1 547.9h0M196.7 541.9h0M177.5 535.8h0M217.0 569.4h0M171.8 529.7h0M160.6 556.2h0M178.1 551.6h0M204.3 536.3h0M162.1 542.4h0M166.4 562.3h0M198.0 526.5h0M154.2 546.3h0M202.5 564.6h0M190.5 555.1h0M231.8 540.8h0M221.1 546.3h0M194.0 544.4h0M202.8 533.8h0M210.9 570.5h0M160.1 540.6h0M161.5 537.1h0M203.8 531.1h0M183.1 536.8h0M217.1 547.2h0M174.0 545.0h0M194.2 555.8h0M196.0 566.0h0M177.6 526.2h0M225.7 539.1h0M219.4 573.6h0M212.0 560.2h0M212.0 562.7h0M206.9 555.1h0M157.9 552.1h0M162.5 552.0h0M185.1 549.3h0M217.0 535.2h0M214.9 555.4h0M175.8 564.3h0M212.5 540.6h0M169.4 551.7h0M223.1 550.9h0M237.0 538.7h0M159.9 543.7h0M177.4 539.0h0M183.3 526.2h0M178.9 546.7h0M172.7 555.5h0M203.9 542.0h0M163.2 535.0h0M164.6 564.3h0M206.5 558.2h0M237.5 549.4h0M184.2 541.5h0M156.4 545.5h0M203.9 559.9h0M207.2 527.9h0M180.0 561.9h0M232.7 548.0h0M152.7 543.5h0M198.5 532.3h0M187.2 565.8h0M187.6 556.1h0M155.4 541.7h0M219.8 552.6h0M210.5 531.1h0M172.8 550.9h0M199.9 540.6h0M199.4 563.6h0M169.2 555.2h0M200.7 535.2h0M206.6 541.0h0M166.8 549.5h0M195.4 535.5h0M201.4 569.9h0M181.7 563.8h0M173.8 565.4h0M213.6 534.4h0M198.0 557.7h0M167.2 552.5h0M184.0 523.8h0M179.6 542.7h0M219.7 544.2h0M194.2 526.8h0M224.0 547.3h0M206.4 548.7h0M186.0 562.3h0M209.0 562.8h0M191.2 525.6h0M217.8 540.7h0M188.6 544.9h0M179.2 523.7h0M202.5 538.8h0M232.8 544.2h0M187.6 539.4h0M234.8 550.2h0M226.6 547.5h0M219.7 534.8h0M201.3 562.1h0M192.4 536.0h0M238.2 540.9h0M193.2 564.7h0M196.1 532.3h0M178.8 563.8h0M202.2 524.4h0M182.5 551.0h0M215.1 536.3h0M209.0 557.1h0M159.4 547.8h0M215.2 543.4h0M185.3 537.7h0M171.8 545.2h0M189.9 538.0h0M203.5 528.7h0M215.1 546.2h0M164.2 559.1h0M220.8 549.4h0M191.4 557.5h0M181.0 537.9h0M215.0 538.9h0M222.6 535.9h0M158.6 557.5h0M204.5 550.1h0M167.1 540.0h0M230.6 543.4h0M202.4 546.0h0M223.8 555.0h0M196.1 523.2h0M554.5 221.3h0M546.9 221.1h0M544.4 238.0h0M546.7 232.9h0M555.3 225.6h0M554.7 233.3h0M580.1 227.7h0M548.4 229.2h0M573.1 220.3h0M540.3 218.4h0M583.2 228.7h0M540.7 221.9h0M573.9 222.5h0M566.1 220.1h0M556.7 217.9h0M542.5 216.4h0M558.2 221.2h0M568.3 220.9h0M553.6 235.6h0M542.6 226.7h0M542.4 249.7h0M544.8 235.7h0M570.4 224.7h0M567.2 225.1h0M545.0 223.2h0M540.4 240.7h0M549.7 234.7h0M560.5 223.2h0M545.9 229.4h0M547.4 223.7h0M543.9 244.7h0M572.2 227.5h0M551.6 228.0h0M572.5 231.0h0M550.7 220.9h0M541.4 231.6h0M580.4 222.1h0M564.9 226.3h0M575.9 227.2h0M543.2 233.9h0M545.3 251.9h0M578.0 224.5h0M558.3 227.1h0M555.7 229.6h0M551.1 232.2h0M541.9 224.3h0M548.2 216.9h0M554.5 215.7h0M541.6 245.0h0M544.4 220.4h0M544.0 214.3h0M553.6 230.8h0M575.0 230.6h0M540.0 248.8h0M562.6 219.5h0M539.0 224.1h0M582.2 226.3h0M551.8 215.4h0M543.3 240.3h0M558.4 229.5h0M567.6 227.4h0M541.8 247.3h0M544.1 247.3h0M583.4 231.5h0M567.0 231.2h0M577.7 221.6h0M564.7 223.7h0M550.1 218.4h0M580.9 230.3h0M545.3 226.5h0M545.2 216.7h0M551.5 224.0h0M571.2 222.2h0M540.0 243.4h0M690.8 438.1h0M704.5 440.0h0M713.6 471.5h0M694.9 427.8h0M683.3 432.8h0M706.2 472.9h0M726.1 456.5h0M711.6 443.0h0M718.9 446.7h0M712.8 463.6h0M690.6 451.8h0M697.7 447.4h0M697.3 455.4h0M692.2 457.4h0M677.9 452.5h0M697.6 461.8h0M696.6 438.5h0M680.5 455.6h0M688.9 436.5h0M694.6 464.4h0M703.3 458.1h0M697.4 458.8h0M688.1 453.5h0M682.7 458.7h0M689.1 429.1h0M686.8 439.2h0M708.3 458.3h0M678.6 440.8h0M692.7 449.5h0M701.8 449.4h0M707.1 434.8h0M689.8 458.5h0M720.0 461.0h0M710.7 459.1h0M720.2 467.7h0M694.8 469.0h0M705.1 432.5h0M714.3 445.1h0M709.4 449.8h0M685.1 442.3h0M695.3 436.3h0M700.8 463.1h0M682.3 453.2h0M708.1 447.7h0M699.4 433.4h0M700.2 445.2h0M707.7 455.1h0M706.6 440.9h0M699.3 451.4h0M701.7 440.4h0M690.0 443.4h0M686.9 444.0h0M721.2 459.0h0M702.3 434.1h0M716.0 470.6h0M709.8 463.3h0M715.1 447.3h0M703.4 472.1h0M685.1 437.7h0M679.8 451.1h0M697.4 468.9h0M705.5 466.6h0M681.5 448.0h0M684.9 446.0h0M691.8 429.6h0M698.3 436.8h0M692.5 439.6h0M712.6 466.5h0M681.0 445.0h0M697.1 443.2h0M678.3 433.6h0M708.1 438.7h0M683.1 438.6h0M721.3 465.7h0M711.3 439.4h0M701.7 468.2h0M708.6 445.4h0M719.3 463.4h0M703.1 465.8h0M683.5 451.0h0M710.7 465.3h0M696.3 432.0h0M677.6 442.8h0M714.7 456.0h0M696.8 465.1h0M722.8 464.0h0M700.7 460.3h0M708.5 471.8h0M711.1 471.5h0M704.3 436.3h0M689.2 422.0h0M680.1 458.1h0M723.7 452.0h0M689.0 447.0h0M677.1 445.6h0M703.2 444.7h0M677.3 436.6h0M677.5 459.7h0M714.2 452.3h0M716.8 472.9h0M718.1 470.0h0M691.5 462.2h0M694.0 454.0h0M685.1 461.8h0M700.2 457.9h0M693.3 446.1h0M690.3 425.5h0M718.8 453.7h0M686.7 426.8h0M679.9 438.0h0M680.0 429.9h0M677.5 431.4h0M703.9 455.1h0M695.2 434.0h0M710.0 456.7h0M701.5 474.2h0M676.1 454.1h0M688.7 440.4h0M708.4 465.7h0M688.5 456.6h0M703.7 462.2h0M701.8 447.0h0M680.3 442.6h0M694.9 462.1h0M721.6 454.4h0M684.3 424.4h0M721.2 452.2h0M679.2 447.5h0M688.8 462.1h0M700.7 438.1h0M704.5 447.1h0M707.1 462.1h0M709.2 441.0h0M694.0 441.9h0M713.9 461.1h0M714.8 466.7h0M684.9 422.0h0M711.1 448.2h0M719.3 450.3h0M676.4 439.8h0M685.3 457.8h0M661.7 698.9h0M606.0 663.8h0M652.2 683.1h0M620.2 667.3h0M597.0 674.7h0M634.4 663.2h0M619.0 693.7h0M596.9 686.1h0M618.5 680.7h0M613.4 700.4h0M619.7 696.1h0M627.5 678.3h0M605.8 652.6h0M634.0 677.8h0M645.8 665.0h0M635.1 675.0h0M623.4 650.7h0M612.9 645.1h0M614.1 682.4h0M626.7 664.9h0M610.3 661.8h0M629.5 664.1h0M599.7 669.4h0M605.1 694.2h0M613.2 670.6h0M610.4 676.5h0M618.2 653.1h0M637.4 667.4h0M644.5 661.9h0M609.6 688.1h0M628.3 674.8h0M622.6 670.7h0M625.3 696.8h0M657.3 689.9h0M618.1 701.8h0M615.1 660.6h0M642.7 682.0h0M638.6 670.6h0M625.8 673.4h0M666.3 700.7h0M643.6 678.3h0M640.1 703.0h0M603.0 666.6h0M659.4 701.1h0M641.0 679.9h0M642.6 670.9h0M607.9 659.3h0M608.5 683.5h0M628.2 700.5h0M624.9 705.4h0M613.6 673.3h0M625.0 691.3h0M617.1 691.8h0M612.5 678.9h0M603.6 674.3h0M610.3 667.2h0M599.0 684.0h0M602.7 651.1h0M601.9 678.9h0M617.3 689.3h0M647.5 675.0h0M643.9 673.6h0M613.3 651.7h0M629.3 683.4h0M622.5 687.4h0M612.0 698.0h0M616.0 680.1h0M625.2 681.2h0M601.0 676.8h0M601.9 687.1h0M619.1 649.2h0M601.0 682.7h0M652.9 689.2h0M621.8 698.1h0M605.3 680.2h0M628.2 660.5h0M616.7 649.5h0M647.2 684.0h0M617.1 695.6h0M631.6 679.9h0M647.4 680.5h0M630.6 700.8h0M657.9 696.7h0M624.9 703.0h0M669.2 697.5h0M630.1 661.7h0M619.1 658.9h0M648.5 686.6h0M610.9 692.6h0M625.5 684.5h0M644.3 692.4h0M645.4 669.9h0M617.1 673.0h0M626.0 667.2h0M647.8 692.3h0M624.6 663.0h0M612.2 656.3h0M633.1 659.3h0M641.4 664.7h0M670.1 703.0h0M595.3 678.0h0M623.9 656.2h0M664.2 702.9h0M604.9 683.6h0M601.2 658.2h0M656.5 686.8h0M614.7 698.1h0M646.3 672.4h0M621.0 679.4h0M640.3 674.1h0M620.3 656.2h0M617.3 677.7h0M663.0 700.8h0M660.5 693.1h0M642.6 687.1h0M625.1 676.0h0M622.5 692.6h0M605.1 691.4h0M621.3 665.3h0M627.0 698.4h0M606.0 646.7h0M613.8 663.9h0M663.5 696.5h0M633.4 701.3h0M620.0 661.6h0M620.4 675.4h0M599.9 651.9h0M631.5 677.5h0M632.2 662.4h0M634.0 670.9h0M608.5 672.1h0M658.1 692.6h0M622.6 703.7h0M614.0 676.7h0M599.4 674.2h0M627.3 694.5h0M612.6 660.2h0M623.2 677.8h0M607.0 676.9h0M639.5 677.8h0M632.8 667.9h0M609.0 669.5h0M620.1 688.3h0M635.3 702.4h0M609.6 651.1h0M614.0 657.7h0M609.8 696.3h0M653.8 686.5h0M627.8 656.0h0M620.7 651.2h0M628.6 689.3h0M602.8 669.5h0M617.9 662.6h0M622.7 700.5h0M603.2 659.6h0M669.9 699.7h0M607.8 666.6h0M620.1 685.0h0M645.8 678.5h0M610.8 690.0h0M605.4 697.9h0M631.1 657.8h0M610.7 647.9h0M609.2 656.2h0M621.9 690.1h0M601.9 664.5h0M600.8 667.1h0M619.2 699.7h0M622.3 681.6h0M603.6 656.1h0M624.9 693.9h0M597.6 677.1h0M666.0 694.7h0M619.9 673.1h0M644.3 689.4h0M650.8 700.8h0M606.3 656.9h0M663.4 693.0h0M594.9 682.7h0M636.1 677.1h0M643.8 706.3h0M809.9 218.1h0M799.8 220.2h0M783.4 214.0h0M816.3 224.6h0M786.7 210.7h0M790.6 219.3h0M813.1 233.1h0M810.9 222.9h0M808.1 216.8h0M808.7 236.7h0M815.6 235.0h0M815.9 239.5h0M792.6 226.9h0M802.3 238.9h0M819.9 231.4h0M827.0 223.5h0M815.9 221.6h0M797.0 222.1h0M771.8 217.4h0M818.6 222.9h0M806.3 221.7h0M807.1 239.2h0M795.0 211.9h0M779.1 216.2h0M821.3 229.1h0M820.6 225.8h0M808.0 223.2h0M805.5 217.5h0M798.2 214.5h0M788.3 213.2h0M788.4 217.5h0M799.5 223.6h0M778.6 211.4h0M812.6 235.7h0M804.8 238.0h0M795.8 220.0h0M803.1 215.8h0M775.7 216.7h0M824.5 216.9h0M816.9 230.2h0M816.7 218.6h0M784.1 211.3h0M818.2 233.7h0M792.0 213.7h0M802.3 220.2h0M778.1 208.0h0M770.8 208.0h0M788.5 223.6h0M781.2 217.2h0M796.2 217.6h0M811.4 240.4h0M764.9 215.4h0M823.1 221.2h0M824.4 223.4h0M807.0 226.1h0M803.5 222.8h0M776.6 213.5h0M795.1 228.1h0M797.6 225.7h0M799.3 217.2h0M791.6 211.2h0M772.9 214.9h0M782.3 208.8h0M805.4 241.5h0M826.3 221.1h0M791.0 216.9h0M805.8 235.4h0M820.9 220.8h0M817.9 237.2h0M775.2 210.6h0M771.1 210.3h0M801.6 225.1h0M795.4 214.8h0M821.3 223.2h0M868.4 370.8h0M878.4 371.9h0M902.5 372.0h0M861.3 366.7h0M870.9 367.9h0M899.9 374.0h0M864.4 366.2h0M888.7 372.2h0M900.7 369.0h0M892.5 367.5h0M878.4 374.3h0M895.7 370.4h0M872.5 374.1h0M891.0 372.6h0M879.2 376.4h0M874.8 371.3h0M892.3 370.5h0M885.8 373.4h0M882.8 377.0h0M896.0 374.6h0M897.7 368.3h0M893.3 373.7h0M904.3 370.4h0M888.5 374.8h0M882.6 372.5h0M886.2 376.9h0M864.0 368.7h0M888.8 369.0h0M885.3 371.2h0M874.3 375.3h0M881.7 375.0h0M890.6 375.6h0M880.7 370.0h0M872.0 370.3h0M866.6 366.7h0M921.4 369.7h0M930.5 374.7h0M925.3 372.9h0M917.0 373.7h0M919.9 373.8h0M923.2 366.2h0M917.8 369.3h0M926.1 368.1h0M919.3 367.3h0M925.5 375.6h0M922.7 375.4h0M926.9 371.2h0M928.7 369.6h0M922.8 372.9h0M928.4 376.5h0M923.8 369.5h0M385.1 411.7h0M401.7 392.8h0M390.5 403.9h0M403.0 432.3h0M422.4 398.9h0M397.9 402.8h0M392.2 398.7h0M397.6 391.6h0M388.5 410.7h0M396.8 398.2h0M398.6 420.1h0M412.7 396.8h0M408.5 395.5h0M395.6 408.4h0M429.2 400.8h0M391.4 401.6h0M425.9 397.0h0M419.0 397.9h0M408.0 391.8h0M390.9 412.4h0M413.5 399.5h0M392.0 406.8h0M403.4 389.5h0M398.4 428.3h0M397.3 394.6h0M409.3 399.3h0M392.3 420.6h0M397.0 386.1h0M404.8 406.6h0M388.2 407.2h0M402.6 399.9h0M416.8 400.7h0M417.7 406.0h0M413.0 403.6h0M383.9 408.9h0M394.5 400.3h0M389.7 417.1h0M394.7 390.4h0M401.7 428.4h0M388.6 424.4h0M399.7 397.1h0M394.6 396.9h0M408.1 403.1h0M403.5 397.9h0M398.2 423.6h0M405.9 429.0h0M397.9 406.0h0M395.1 423.5h0M400.7 389.7h0M416.0 397.1h0M392.9 409.7h0M430.7 398.5h0M400.8 422.6h0M407.4 389.5h0M401.6 402.9h0M393.6 415.7h0M396.2 415.1h0M395.0 412.6h0M410.9 393.4h0M406.0 397.2h0M392.2 395.7h0M427.8 398.8h0M409.1 436.3h0M400.9 431.4h0M394.8 404.1h0M420.0 406.6h0M414.7 401.7h0M402.9 426.5h0M395.2 417.6h0M402.8 405.6h0M405.1 393.6h0M424.8 399.6h0M422.1 396.3h0M382.3 413.2h0M392.6 424.7h0M420.7 401.2h0M403.7 391.8h0M391.4 414.8h0M408.1 433.5h0M601.2 390.3h0M614.2 408.6h0M605.5 398.4h0M622.1 411.7h0M609.3 405.4h0M603.1 392.7h0M614.3 397.3h0M613.5 404.0h0M610.9 394.2h0M611.4 406.5h0M597.8 385.6h0M596.1 382.5h0M631.3 420.7h0M628.6 416.4h0M606.5 401.1h0M604.0 388.1h0M595.6 387.6h0M599.2 382.4h0M620.9 418.6h0M611.4 398.6h0M634.0 420.3h0M603.0 396.1h0M617.7 396.1h0M600.8 384.8h0M610.5 389.7h0M625.9 412.7h0M612.8 412.4h0M593.3 389.7h0M600.7 394.3h0M615.0 393.7h0M598.7 388.9h0M603.1 385.0h0M631.7 418.0h0M618.2 402.1h0M613.9 414.5h0M625.3 415.9h0M625.3 419.0h0M595.1 391.7h0M609.9 401.5h0M605.5 392.1h0M608.3 408.5h0M619.9 405.2h0M628.5 413.9h0M615.2 399.4h0M606.1 386.6h0M617.6 412.8h0M637.3 420.6h0M622.8 408.9h0M627.2 421.2h0M620.4 409.1h0M615.8 402.2h0M622.5 415.2h0M612.3 391.0h0M628.7 419.4h0M607.0 394.9h0M609.3 399.4h0M512.8 551.4h0M506.0 565.9h0M516.0 541.5h0M494.2 536.0h0M498.1 540.5h0M500.7 535.5h0M506.9 538.1h0M501.5 551.5h0M496.4 560.0h0M503.4 540.2h0M498.5 547.1h0M512.0 542.9h0M521.0 551.8h0M500.9 542.1h0M514.6 554.2h0M513.0 564.8h0M490.5 543.6h0M510.7 536.6h0M488.7 552.6h0M489.0 548.2h0M515.6 557.5h0M513.1 548.9h0M517.3 563.5h0M509.8 559.9h0M506.2 557.2h0M493.1 557.6h0M502.2 556.4h0M496.0 551.8h0M516.0 547.6h0M519.9 553.8h0M512.1 558.3h0M495.1 548.1h0M508.0 542.2h0M505.4 553.3h0M519.5 546.2h0M503.4 542.9h0M519.0 560.5h0M508.5 563.2h0M517.4 551.8h0M514.4 559.6h0M506.2 551.1h0M487.0 537.6h0M500.7 561.3h0M491.1 539.5h0M505.1 535.8h0M491.8 546.0h0M501.2 544.9h0M495.6 556.3h0M514.0 537.7h0M518.0 558.2h0M512.7 540.7h0M511.6 569.8h0M493.9 554.0h0M503.4 562.2h0M493.1 542.6h0M495.7 545.6h0M518.8 541.1h0M498.3 536.4h0M490.1 555.9h0M498.3 549.4h0M501.3 558.5h0M512.1 560.9h0M508.5 545.7h0M508.5 567.9h0M507.2 560.1h0M512.4 555.0h0M485.4 540.6h0M517.5 537.1h0M509.0 555.4h0M510.2 565.9h0M494.5 540.7h0M501.2 537.7h0M512.9 545.1h0M493.5 506.3h0M492.8 501.2h0M485.9 506.6h0M486.2 501.2h0M490.3 508.9h0M494.7 503.1h0M491.2 506.1h0M493.1 509.0h0M489.4 504.7h0M487.2 504.3h0M487.7 499.1h0M483.7 507.8h0M483.7 504.4h0M483.1 501.8h0M496.5 505.7h0M805.0 791.5h0M807.6 788.2h0M803.1 789.9h0M807.8 785.1h0M805.5 783.0h0M802.8 786.7h0M806.2 779.8h0M806.8 793.6h0M804.7 785.6h0M807.8 782.7h0M638.7 916.8h0M639.8 913.1h0M639.7 907.4h0M634.4 902.6h0M635.3 909.1h0M637.2 906.9h0M634.5 918.1h0M636.7 914.3h0M632.4 916.8h0M629.0 920.1h0M641.7 910.9h0M636.0 911.7h0M633.3 914.7h0M636.9 904.5h0M626.1 923.3h0M639.3 910.5h0M639.2 904.8h0M523.9 999.7h0M522.6 1006.8h0M527.3 1013.1h0M523.9 1014.1h0M525.4 1005.7h0M526.6 999.1h0M532.4 1001.8h0M529.6 1008.5h0M524.8 1002.8h0M524.2 1009.8h0M518.3 1016.9h0M527.7 1006.2h0M530.7 1012.6h0M530.9 998.2h0M521.9 1011.1h0M529.2 1003.9h0M532.6 1010.3h0M533.0 999.3h0M527.1 1001.9h0M528.8 1000.0h0M532.6 1004.9h0M511.5 452.2h0M507.8 457.9h0M516.3 449.5h0M514.9 451.9h0M508.2 447.9h0M510.7 448.3h0M642.5 433.0h0M643.8 430.6h0M642.7 428.3h0M441.3 530.7h0M448.0 529.3h0M434.7 534.8h0M430.5 539.5h0M450.8 531.7h0M456.0 525.6h0M441.7 525.1h0M437.3 534.1h0M428.6 537.8h0M427.9 542.3h0M449.3 526.6h0M453.9 528.7h0M446.2 524.8h0M450.3 534.7h0M451.9 526.6h0M431.9 541.9h0M448.0 532.1h0M432.8 537.3h0M450.2 528.7h0M438.6 530.5h0M442.4 532.8h0M447.5 534.3h0M455.8 523.0h0M431.6 533.9h0M434.4 532.4h0M440.5 534.3h0M438.9 525.9h0M453.6 523.9h0M441.1 527.6h0M781.2 590.5h0M758.4 595.4h0M745.2 604.1h0M727.3 597.0h0M732.0 594.5h0M722.2 588.9h0M748.7 600.9h0M763.4 602.6h0M717.4 590.1h0M754.9 598.9h0M776.7 589.7h0M760.0 600.1h0M774.0 587.5h0M720.8 592.1h0M730.5 599.1h0M755.7 602.3h0M714.9 588.6h0M748.8 604.2h0M745.6 601.4h0M765.5 596.3h0M757.7 599.0h0M769.9 593.9h0M738.5 601.0h0M735.0 599.5h0M734.6 592.3h0M757.3 593.4h0M774.5 597.2h0M743.0 598.9h0M719.7 589.2h0M722.7 595.6h0M755.2 594.1h0M732.4 597.9h0M779.2 593.8h0M773.1 594.1h0M726.8 594.3h0M751.1 604.6h0M735.7 594.5h0M743.1 601.7h0M774.2 590.2h0M763.0 596.6h0M748.1 596.3h0M776.3 594.8h0M728.6 592.5h0M738.6 598.3h0M768.6 597.6h0M751.2 599.8h0M752.8 597.8h0M752.4 601.7h0M765.7 600.1h0M742.1 593.8h0M740.6 595.9h0M744.4 596.7h0M758.9 602.4h0M725.1 596.4h0M782.0 588.0h0M718.3 592.3h0M770.2 591.4h0M763.9 594.3h0M756.2 596.3h0M767.8 591.8h0M772.6 591.8h0M733.7 228.4h0M741.4 232.7h0M723.3 222.0h0M761.3 228.3h0M761.9 209.9h0M753.3 227.6h0M749.9 241.8h0M725.8 230.9h0M759.0 220.8h0M763.1 213.9h0M749.8 235.4h0M757.6 230.7h0M702.3 193.9h0M736.7 217.7h0M751.0 230.4h0M761.4 241.8h0M764.0 246.7h0M761.1 236.1h0M754.0 223.0h0M728.6 218.9h0M728.2 221.5h0M738.3 232.5h0M756.1 225.3h0M727.7 225.7h0M739.6 230.3h0M760.3 215.9h0M761.7 205.3h0M746.7 224.8h0M748.6 239.8h0M763.4 224.6h0M753.7 236.6h0M761.8 218.6h0M729.2 234.4h0M765.5 244.2h0M747.2 229.5h0M759.8 201.7h0M738.0 227.1h0M755.7 220.9h0M740.7 235.7h0M737.9 222.8h0M758.2 199.6h0M757.8 227.8h0M724.5 235.0h0M765.4 241.8h0M737.6 220.5h0M764.5 215.8h0M735.8 229.7h0M758.8 225.8h0M711.5 196.6h0M721.7 219.0h0M732.5 225.9h0M725.7 220.9h0M737.6 234.8h0M766.9 238.5h0M729.1 230.9h0M724.0 225.8h0M754.6 239.6h0M725.5 224.0h0M720.8 213.3h0M754.9 232.3h0M757.1 233.7h0M758.6 206.0h0M762.3 201.0h0M763.3 207.9h0M754.4 238.8h0M764.0 212.9h0M755.8 241.1h0M760.2 198.7h0M576.3 468.8h0M599.8 464.5h0M593.4 463.9h0M581.2 472.5h0M594.4 466.9h0M586.1 467.5h0M574.5 472.2h0M572.4 471.0h0M582.4 470.7h0M590.2 466.5h0M579.7 469.7h0M580.7 467.3h0M597.6 465.2h0M584.7 471.2h0M577.3 472.1h0M582.6 468.4h0M592.5 468.0h0M455.2 558.4h0M453.3 555.4h0M449.2 560.2h0M454.0 570.2h0M445.4 567.0h0M452.2 560.7h0M445.2 560.0h0M454.0 567.8h0M442.7 573.6h0M447.5 575.4h0M437.1 569.1h0M431.7 569.2h0M433.4 571.3h0M442.7 569.2h0M446.3 571.9h0M438.8 578.1h0M356.9 741.5h0M364.8 789.7h0M336.7 783.1h0M374.2 791.9h0M310.9 821.9h0M317.4 779.4h0M353.4 761.5h0M372.7 749.7h0M396.2 802.4h0M348.5 848.7h0M343.9 844.0h0M324.6 780.5h0M340.5 805.2h0M359.2 833.3h0M320.8 781.9h0M378.4 765.5h0M388.3 799.4h0M326.0 833.7h0M297.6 841.6h0M361.5 819.2h0M380.1 799.3h0M381.8 756.9h0M395.1 822.7h0M374.6 771.8h0M346.8 802.8h0M369.7 796.6h0M376.7 794.2h0M348.7 728.9h0M305.0 819.8h0M349.6 780.8h0M367.7 728.3h0M360.7 772.2h0M385.9 796.2h0M361.5 754.7h0M401.1 838.8h0M320.5 844.9h0M298.7 833.0h0M351.0 814.7h0M346.2 726.5h0M388.6 826.6h0M368.5 819.9h0M333.8 802.1h0M346.0 833.6h0M317.2 856.3h0M348.0 760.6h0M350.7 848.0h0M346.5 826.7h0M379.0 791.9h0M318.0 811.5h0M328.8 829.8h0M352.9 856.5h0M396.8 806.8h0M374.6 731.9h0M333.0 726.2h0M406.5 819.3h0M349.0 735.0h0M348.3 750.3h0M343.1 836.2h0M355.2 782.1h0M374.7 759.7h0M358.8 853.0h0M381.7 797.4h0M358.9 723.4h0M387.1 744.7h0M375.9 838.7h0M406.7 814.4h0M349.4 845.7h0M395.7 779.6h0M384.7 827.9h0M346.3 798.0h0M351.5 769.4h0M361.3 807.6h0M331.1 736.7h0M333.3 748.6h0M310.4 837.0h0M305.7 837.3h0M349.1 832.2h0M291.7 833.6h0M369.1 744.7h0M317.8 833.5h0M351.2 839.9h0M322.7 784.1h0M334.1 764.2h0M322.7 802.6h0M303.9 809.3h0M324.2 794.7h0M383.1 761.4h0M399.7 830.2h0M330.8 847.1h0M355.7 746.3h0M340.0 825.5h0M330.8 823.8h0M345.3 746.8h0M326.2 822.1h0M293.5 822.7h0M331.3 797.7h0M403.9 834.3h0M351.8 755.3h0M368.2 788.6h0M397.6 804.7h0M394.1 842.8h0M311.1 815.3h0M324.2 815.7h0M384.6 813.0h0M380.6 783.1h0M367.2 835.3h0M338.2 789.2h0M316.0 775.4h0M343.1 823.3h0M362.7 770.1h0M379.1 739.3h0M348.9 756.7h0M297.9 818.9h0M318.9 808.4h0M323.6 787.2h0M334.6 837.5h0M369.8 834.8h0M394.4 819.7h0M389.5 831.4h0M359.0 775.6h0M362.4 726.1h0M318.4 813.9h0M338.3 743.2h0M306.5 805.1h0M371.8 779.9h0M364.3 735.9h0M319.7 806.3h0M345.7 771.0h0M318.6 849.3h0M377.3 783.6h0M374.4 842.3h0M325.3 765.4h0M359.5 812.4h0M353.1 826.2h0M401.3 841.5h0M329.0 777.7h0M350.8 729.9h0M379.2 823.8h0M387.5 833.0h0M388.0 813.0h0M384.8 818.9h0M373.6 746.7h0M399.1 844.2h0M367.6 748.3h0M356.3 786.2h0M317.4 791.6h0M332.1 793.7h0M335.6 833.1h0M385.5 764.9h0M319.6 766.4h0M364.8 723.4h0M349.1 799.6h0M366.7 815.0h0M313.6 838.4h0M350.6 823.4h0M423.1 822.5h0M339.9 799.4h0M324.9 812.6h0M328.5 803.0h0M362.3 780.4h0M341.4 752.4h0M377.4 800.6h0M381.9 812.6h0M376.6 740.8h0M325.5 776.3h0M342.7 827.3h0M383.7 809.9h0M350.5 724.1h0M396.0 776.8h0M363.4 840.6h0M325.2 755.1h0M352.1 786.0h0M358.3 762.8h0M337.4 766.3h0M352.7 808.2h0M321.9 768.5h0M316.1 808.0h0M307.5 822.9h0M315.4 844.9h0M411.7 816.2h0M357.1 783.2h0M313.6 828.3h0M353.6 812.1h0M361.6 738.9h0M309.8 841.0h0M343.7 740.5h0M330.4 791.0h0M380.8 847.6h0M328.2 780.6h0M356.1 845.1h0M329.7 856.6h0M404.0 843.0h0M392.2 821.9h0M322.6 821.0h0M342.7 808.9h0M339.4 758.1h0M366.5 738.9h0M376.8 749.2h0M295.5 827.1h0M353.7 765.9h0M400.4 816.5h0M379.4 774.8h0M331.6 732.4h0M340.4 778.4h0M381.3 852.3h0M394.3 784.7h0M330.7 815.4h0M336.2 731.3h0M417.6 821.9h0M341.4 746.4h0M333.9 852.5h0M314.4 835.9h0M342.0 847.5h0M367.2 847.6h0M373.8 808.8h0M316.9 788.2h0M346.3 836.1h0M413.7 822.0h0M360.1 847.3h0M386.2 778.8h0M342.3 720.0h0M372.2 855.0h0M396.6 845.3h0M371.4 849.0h0M402.2 820.6h0M326.6 816.1h0M309.2 852.1h0M296.8 836.7h0M343.5 743.1h0M332.0 805.4h0M321.4 793.2h0M314.7 850.6h0M366.2 763.3h0M357.4 790.4h0M364.3 766.9h0M299.3 849.8h0M334.8 822.3h0M352.7 733.7h0M337.7 839.7h0M324.2 818.0h0M389.1 810.9h0M418.9 829.9h0M382.5 742.1h0M384.0 794.8h0M343.2 850.8h0M322.2 776.6h0M394.4 839.5h0M305.2 847.3h0M348.3 739.2h0M342.2 727.5h0M321.4 852.0h0M387.4 815.1h0M390.7 818.3h0M311.7 848.4h0M334.9 734.0h0M376.2 746.7h0M333.4 818.8h0M339.3 828.5h0M349.2 850.8h0M365.8 800.7h0M352.4 798.7h0M362.5 802.9h0M358.2 844.2h0M369.6 737.4h0M386.7 759.3h0M299.9 835.2h0M367.1 784.6h0M347.2 764.5h0M337.5 795.0h0M387.6 819.4h0M322.0 789.8h0M381.5 790.8h0M334.0 770.5h0M362.7 815.9h0M354.4 819.3h0M382.1 832.6h0M295.5 832.0h0M331.3 782.3h0M315.4 773.1h0M302.7 821.3h0M296.8 813.1h0M332.0 741.4h0M323.3 849.8h0M315.4 778.4h0M406.6 822.1h0M392.5 765.2h0M339.2 793.0h0M367.0 812.7h0M353.0 746.7h0M333.7 761.6h0M335.4 858.2h0M394.2 789.1h0M334.2 737.4h0M396.4 833.9h0M358.8 809.7h0M379.1 803.0h0M377.4 848.3h0M324.7 772.0h0M321.3 761.1h0M384.8 732.7h0M333.6 812.4h0M374.2 783.3h0M368.2 741.6h0M313.5 811.8h0M384.5 757.1h0M382.7 750.9h0M311.6 796.5h0M377.8 840.1h0M313.4 787.1h0M364.6 844.6h0M387.6 770.2h0M354.3 850.3h0M393.1 791.8h0M351.7 783.3h0M351.9 727.2h0M342.7 772.7h0M336.4 757.7h0M318.8 829.8h0M328.1 809.9h0M412.3 829.8h0M375.1 811.0h0M390.3 804.7h0M361.8 838.8h0M400.0 822.5h0M379.3 731.7h0M349.2 767.2h0M328.2 853.3h0M351.7 760.1h0M370.1 811.4h0M327.9 842.2h0M358.9 756.8h0M381.4 788.1h0M355.1 779.3h0M329.0 742.4h0M329.7 728.1h0M372.6 761.6h0M344.8 732.1h0M350.5 835.4h0M355.2 838.6h0M347.0 744.4h0M331.6 829.9h0M386.9 838.0h0M326.6 744.9h0M330.3 753.4h0M373.9 826.3h0M399.3 810.5h0M382.0 736.8h0M374.0 849.2h0M373.6 833.7h0M385.4 830.2h0M356.9 758.8h0M364.9 745.8h0M335.4 797.8h0M367.7 771.1h0M406.2 834.5h0M294.8 839.6h0M385.6 762.0h0M341.0 732.5h0M356.1 766.4h0M330.5 788.5h0M352.1 828.7h0M360.7 795.8h0M362.3 783.0h0M358.6 769.5h0M308.5 849.6h0M351.7 842.9h0M407.4 824.4h0M353.7 774.5h0M346.9 840.6h0M332.9 846.1h0M397.7 820.8h0M352.6 777.7h0M358.6 803.2h0M328.4 733.0h0M355.8 835.8h0M337.5 763.1h0M388.4 850.9h0M319.0 827.4h0M352.6 821.3h0M372.5 830.2h0M384.5 743.6h0M301.2 848.1h0M319.6 798.8h0M336.3 818.1h0M315.4 803.5h0M392.6 845.5h0M340.4 782.9h0M406.7 831.5h0M384.8 792.5h0M372.0 732.1h0M307.7 844.4h0M414.3 819.4h0M335.9 727.7h0M354.8 737.4h0M342.5 766.1h0M327.8 825.5h0M354.5 725.7h0M351.9 852.2h0M357.0 772.7h0M381.4 793.6h0M402.3 811.6h0M314.8 818.9h0M378.5 735.2h0M344.5 764.6h0M329.6 759.4h0M381.5 766.3h0M327.3 790.4h0M381.0 752.7h0M351.9 751.4h0M360.5 827.6h0M377.0 831.5h0M323.2 764.7h0M396.7 818.3h0M361.6 788.9h0M345.7 758.1h0M350.9 742.9h0M393.8 827.5h0M330.0 836.5h0M312.1 806.1h0M360.3 734.8h0M386.2 849.6h0M377.0 805.2h0M369.6 827.1h0M333.8 776.3h0M366.5 795.4h0M396.4 793.3h0M335.5 850.5h0M366.4 773.7h0M392.4 782.0h0M379.0 786.4h0M321.8 858.7h0M321.9 812.5h0M376.7 853.7h0M386.1 781.3h0M364.4 834.0h0M366.2 810.5h0M346.0 780.7h0M363.4 806.8h0M355.7 728.5h0M320.4 839.1h0M322.3 832.2h0M374.4 727.2h0M305.5 843.6h0M312.8 824.8h0M380.8 814.8h0M362.5 821.6h0M419.4 820.7h0M346.7 852.0h0M360.2 748.4h0M403.4 831.8h0M377.4 759.0h0M384.0 777.7h0M355.5 804.5h0M359.9 727.7h0M398.9 783.5h0M328.4 756.3h0M395.2 811.8h0M332.0 839.5h0M377.4 808.5h0M336.4 801.0h0M333.2 808.7h0M365.6 808.1h0M349.4 720.8h0M341.2 786.0h0M308.2 829.9h0M313.1 779.0h0M338.1 748.6h0M348.8 842.5h0M310.7 857.7h0M319.7 854.0h0M375.1 822.4h0M354.2 730.1h0M324.1 852.4h0M368.7 733.5h0M346.6 810.5h0M364.9 733.6h0M380.7 828.9h0M324.5 843.3h0M330.5 768.7h0M363.2 810.5h0M382.9 784.0h0M395.9 836.7h0M374.0 777.4h0M377.9 752.4h0M385.3 770.7h0M341.1 837.5h0M301.6 813.5h0M348.5 812.3h0M338.3 777.2h0M417.5 827.1h0M409.1 829.6h0M355.4 815.6h0M371.0 783.7h0M327.4 735.0h0M376.6 756.4h0M378.0 842.9h0M357.6 817.5h0M335.3 778.9h0M326.6 854.9h0M344.6 750.1h0M364.0 825.1h0M331.3 841.8h0M403.3 839.6h0M376.6 856.1h0M362.4 850.1h0M337.7 773.7h0M357.8 751.6h0M379.0 816.8h0M378.3 728.6h0M378.0 813.9h0M292.4 829.5h0M300.8 843.3h0M328.6 748.8h0M384.4 789.5h0M393.1 824.3h0M343.8 729.3h0M320.3 771.8h0M366.3 803.9h0M389.6 815.6h0M374.0 787.8h0M369.3 822.7h0M334.2 791.0h0M419.8 825.7h0M314.6 791.8h0M343.6 803.5h0M306.0 808.1h0M375.8 767.8h0M360.5 732.4h0M319.7 841.9h0M368.6 830.8h0M382.2 747.7h0M374.4 741.8h0M387.6 793.2h0M383.2 825.5h0M338.2 779.9h0M376.7 836.7h0M301.2 816.3h0M338.0 854.9h0M352.0 818.5h0M324.2 757.7h0M337.6 736.4h0M329.5 818.2h0M328.8 739.7h0M397.9 840.3h0M397.3 788.0h0M325.9 840.3h0M316.0 840.7h0M363.7 813.2h0M368.4 845.6h0M321.9 826.8h0M328.2 787.7h0M317.9 858.8h0M377.8 778.7h0M373.4 796.9h0M350.1 746.5h0M399.2 778.4h0M371.7 816.8h0M325.0 829.6h0M351.4 738.2h0M351.6 718.4h0M328.9 834.1h0M364.6 743.3h0M386.4 852.0h0M389.9 790.0h0M375.6 743.7h0M317.4 767.2h0M388.7 778.2h0M353.6 722.7h0M324.9 807.3h0M386.2 774.9h0M339.7 844.5h0M360.9 792.2h0M388.4 840.7h0M375.1 736.1h0M318.7 789.8h0M321.1 834.1h0M338.2 835.5h0M355.4 842.4h0M314.6 822.9h0M311.6 833.7h0M325.2 810.3h0M396.8 815.6h0M398.3 799.6h0M340.2 831.4h0M342.4 722.7h0M358.3 795.8h0M351.1 801.6h0M348.3 795.2h0M419.5 818.3h0M312.6 809.0h0M315.8 796.2h0M355.2 749.9h0M329.4 771.2h0M353.8 742.1h0M383.8 834.7h0M394.6 796.6h0M393.9 847.8h0M330.8 844.2h0M416.7 818.4h0M343.2 813.6h0M359.1 778.2h0M347.8 815.5h0M352.9 831.2h0M338.9 819.0h0M304.5 806.1h0M384.4 754.9h0M384.3 739.1h0M342.4 794.3h0M374.8 817.7h0M306.9 855.6h0M349.3 752.6h0M417.1 815.0h0M410.8 812.8h0M320.7 819.6h0M354.8 801.4h0M389.5 834.2h0M298.0 846.2h0M380.7 771.2h0M376.0 851.2h0M362.7 747.0h0M397.9 823.5h0M383.9 850.4h0M346.4 787.2h0M336.2 721.3h0M407.3 826.7h0M373.8 806.3h0M338.8 723.2h0M396.8 827.9h0M348.2 773.4h0M370.2 761.8h0M311.6 789.6h0M344.2 788.2h0M374.2 801.6h0M307.6 810.1h0M360.1 835.3h0M324.4 837.8h0M412.0 832.1h0M334.4 781.7h0M302.9 846.3h0M352.8 846.1h0M368.2 793.5h0M387.9 804.8h0M371.7 822.3h0M348.9 791.4h0M319.7 784.3h0M389.2 767.0h0M309.1 855.0h0M383.6 815.3h0M344.8 776.3h0M302.0 841.0h0M343.2 818.1h0M381.7 819.1h0M324.7 859.9h0M402.7 805.0h0M354.0 758.5h0M371.3 741.1h0M334.2 828.9h0M368.3 764.6h0M371.9 801.6h0M356.8 827.4h0M331.7 850.2h0M315.6 830.7h0M365.9 787.6h0M356.1 798.0h0M368.0 725.3h0M372.6 824.3h0M327.1 769.6h0M324.7 799.3h0M357.0 748.5h0M385.7 735.7h0M371.2 772.8h0M348.2 825.3h0M325.6 738.9h0M363.1 831.2h0M325.6 760.0h0M550.9 773.0h0M567.6 767.7h0M561.3 769.6h0M564.3 775.2h0M549.0 768.6h0M565.4 769.6h0M559.1 775.4h0M553.3 774.7h0M573.5 777.1h0M560.3 771.9h0M547.3 767.0h0M568.9 778.0h0M550.3 766.5h0M563.6 772.3h0M556.1 772.8h0M573.8 779.4h0M557.1 764.6h0M552.1 780.2h0M563.8 766.2h0M546.2 774.2h0M562.2 777.2h0M571.4 778.9h0M555.6 777.7h0M563.4 779.1h0M557.4 781.2h0M572.9 770.0h0M544.2 770.4h0M549.7 775.9h0M550.8 778.0h0M571.7 775.7h0M558.8 769.6h0M564.0 781.7h0M546.5 776.5h0M576.8 773.1h0M548.7 772.9h0M552.2 769.1h0M696.8 848.4h0M723.9 852.3h0M708.7 841.3h0M720.2 849.3h0M717.7 859.6h0M703.6 856.4h0M722.1 850.5h0M713.9 852.4h0M711.1 840.3h0M699.1 846.8h0M715.8 858.4h0M708.2 846.0h0M704.7 842.4h0M711.8 859.1h0M716.3 844.9h0M705.9 855.4h0M721.7 856.3h0M709.6 857.0h0M726.8 849.9h0M714.6 842.4h0M701.6 849.9h0M718.3 846.8h0M723.6 858.4h0M712.2 843.4h0M719.9 844.8h0M703.7 845.0h0M728.2 854.9h0M702.5 854.3h0M711.6 854.8h0M707.1 843.0h0M706.6 850.4h0M698.7 855.8h0M698.3 850.0h0M716.6 855.9h0M711.7 846.6h0M722.2 846.7h0M704.7 852.2h0M719.1 853.1h0M722.9 843.8h0M702.3 847.5h0M708.6 849.1h0M717.4 842.1h0M716.7 944.3h0M715.6 948.2h0M717.9 946.2h0M721.8 937.1h0M718.0 941.6h0M714.2 944.8h0M713.7 939.7h0M716.0 940.7h0M721.7 941.2h0M718.9 936.5h0M713.4 937.4h0M712.1 941.5h0M658.6 710.2h0M651.9 702.8h0M664.5 692.6h0M660.7 712.3h0M663.7 709.3h0M669.3 708.1h0M670.3 702.3h0M668.7 696.4h0M674.2 720.5h0M672.5 711.1h0M672.3 718.7h0M670.7 704.8h0M642.5 702.3h0M649.7 703.9h0M675.5 728.6h0M674.8 731.6h0M632.6 704.7h0M638.9 703.0h0M656.2 698.6h0M654.0 700.5h0M656.0 707.9h0M662.7 699.5h0M656.9 703.6h0M671.1 716.1h0M674.3 709.8h0M649.3 707.3h0M665.5 715.4h0M668.0 703.9h0M640.8 705.8h0M645.4 704.2h0M674.1 715.2h0M664.8 705.2h0M669.8 713.7h0M648.0 702.4h0M763.7 249.1h0M785.7 274.0h0M782.0 264.9h0M789.7 270.1h0M786.8 270.9h0M776.7 261.1h0M780.0 263.2h0M775.3 265.5h0M788.9 273.2h0M765.3 246.5h0M793.5 270.7h0M769.3 262.8h0M778.4 266.8h0M774.4 259.6h0M773.6 262.8h0M770.1 268.8h0M767.5 254.7h0M786.6 267.5h0M794.6 262.0h0M776.3 270.3h0M791.0 266.1h0M772.3 256.5h0M799.1 257.2h0M769.2 257.9h0M782.8 261.2h0M768.9 260.2h0M778.5 269.1h0M774.0 268.5h0M791.8 263.1h0M462.6 451.5h0M473.8 452.5h0M482.4 464.1h0M493.2 456.5h0M458.4 447.4h0M467.3 454.8h0M494.4 453.0h0M515.9 447.2h0M485.0 461.0h0M503.3 454.5h0M501.5 456.3h0M477.9 462.2h0M496.5 454.5h0M509.9 450.9h0M506.6 450.9h0M482.0 456.3h0M473.9 455.9h0M504.3 461.6h0M505.4 459.4h0M480.7 453.3h0M490.1 455.3h0M487.3 457.5h0M465.9 449.9h0M454.1 449.8h0M470.8 449.8h0M471.9 457.3h0M497.2 458.0h0M463.2 448.5h0M457.4 452.9h0M509.8 446.6h0M462.8 444.0h0M509.2 459.3h0M485.0 455.1h0M511.3 453.9h0M491.2 453.2h0M474.4 459.7h0M460.7 449.4h0M485.2 458.3h0M477.8 452.2h0M451.4 448.2h0M460.7 444.7h0M471.6 447.8h0M499.5 452.4h0M469.3 457.0h0M464.8 454.5h0M189.2 519.4h0M224.9 520.0h0M224.2 523.7h0M221.1 516.6h0M195.5 512.7h0M205.1 526.2h0M186.8 523.8h0M196.5 514.8h0M230.3 524.0h0M207.8 523.1h0M194.0 519.6h0M231.3 520.4h0M187.6 526.6h0M215.0 523.2h0M207.4 520.7h0M193.0 512.1h0M191.8 515.5h0M227.7 511.5h0M190.8 523.4h0M185.7 515.4h0M171.4 528.1h0M220.2 520.3h0M191.2 520.4h0M183.6 524.5h0M198.5 509.2h0M197.4 525.1h0M201.9 523.4h0M178.2 526.1h0M213.0 518.9h0M209.8 519.9h0M199.8 528.0h0M180.1 519.2h0M182.9 518.3h0M215.6 520.7h0M227.3 526.5h0M175.2 528.6h0M182.9 526.8h0M214.4 515.2h0M224.9 509.7h0M178.2 522.2h0M218.1 515.1h0M185.2 517.8h0M200.5 514.7h0M223.0 514.9h0M221.1 508.6h0M219.4 525.6h0M203.8 520.7h0M230.3 517.4h0M753.0 553.2h0M748.6 550.0h0M745.1 546.5h0M746.4 553.2h0M747.9 546.6h0M741.0 548.0h0M742.1 544.4h0M750.6 551.7h0M743.2 550.1h0M253.5 530.9h0M250.6 538.8h0M254.0 542.1h0M256.2 539.9h0M245.6 530.5h0M250.6 531.0h0M258.7 536.3h0M248.9 544.1h0M252.7 533.4h0M251.5 542.1h0M254.5 538.2h0M256.9 537.7h0M253.7 528.5h0M452.2 845.9h0M428.1 826.1h0M463.5 849.4h0M502.7 881.3h0M454.3 848.1h0M484.7 873.6h0M449.8 855.2h0M426.3 828.2h0M504.0 878.3h0M490.6 872.8h0M460.1 856.3h0M420.5 825.3h0M442.2 836.1h0M454.8 841.6h0M445.4 860.8h0M491.2 876.5h0M484.8 870.4h0M450.1 849.6h0M474.9 862.0h0M482.0 863.0h0M461.6 850.7h0M452.5 850.6h0M443.3 845.1h0M507.9 880.1h0M477.6 870.5h0M511.1 878.7h0M503.3 872.8h0M494.5 873.5h0M421.7 822.9h0M502.1 875.7h0M499.5 870.3h0M463.0 858.5h0M493.2 870.1h0M436.4 835.7h0M456.2 850.5h0M465.7 847.2h0M431.1 829.5h0M441.4 842.2h0M456.3 854.9h0M504.9 875.0h0M445.5 837.6h0M472.3 867.4h0M488.1 872.2h0M486.8 869.5h0M467.1 859.7h0M462.5 846.4h0M458.5 846.0h0M440.5 838.6h0M454.0 854.9h0M459.3 849.9h0M444.2 842.0h0M424.6 826.5h0M448.9 839.0h0M446.3 845.0h0M497.5 867.5h0M452.3 839.4h0M491.1 869.0h0M447.0 857.7h0M493.9 877.3h0M498.1 875.0h0M474.7 868.5h0M426.2 824.3h0M508.8 875.5h0M471.6 865.1h0M476.9 867.6h0M444.2 863.1h0M778.2 301.0h0M785.0 307.7h0M783.5 309.4h0M775.1 300.3h0M783.3 306.3h0M797.6 315.7h0M798.6 313.7h0M793.2 304.5h0M788.8 311.8h0M793.0 314.5h0M790.2 306.5h0M795.4 310.6h0M778.2 294.7h0M771.7 296.5h0M798.0 311.6h0M792.4 308.3h0M782.1 299.5h0M791.1 303.9h0M795.4 308.1h0M779.7 304.1h0M799.9 316.1h0M669.8 715.5h0M932.0 699.7h0M921.9 728.2h0M924.6 705.6h0M918.8 762.6h0M905.0 708.1h0M927.5 718.1h0M932.2 751.6h0M939.7 720.0h0M924.6 716.8h0M911.4 732.9h0M918.0 759.0h0M927.8 747.4h0M943.5 694.9h0M938.0 723.5h0M932.4 696.8h0M914.4 731.8h0M907.6 708.5h0M926.4 761.3h0M935.0 697.3h0M926.3 776.2h0M950.4 673.8h0M902.6 708.5h0M933.6 738.8h0M931.7 745.3h0M917.5 714.6h0M915.9 713.1h0M931.9 713.6h0M920.3 702.7h0M910.9 711.4h0M935.9 708.5h0M952.2 686.3h0M939.1 735.1h0M941.6 771.1h0M900.7 712.2h0M910.3 721.1h0M924.9 770.9h0M900.1 707.9h0M964.2 683.2h0M911.9 715.6h0M917.4 740.5h0M949.8 687.5h0M940.4 723.3h0M958.3 677.4h0M923.3 748.2h0M919.5 732.3h0M950.5 676.8h0M917.7 707.1h0M923.0 767.1h0M939.5 775.6h0M947.2 686.0h0M955.9 678.8h0M923.4 737.0h0M926.0 712.2h0M924.3 752.0h0M954.9 689.8h0M920.9 749.6h0M925.0 720.7h0M941.8 733.0h0M913.9 770.8h0M957.5 673.4h0M914.0 714.2h0M939.6 769.2h0M917.6 775.2h0M933.8 719.8h0M950.1 707.8h0M943.9 713.5h0M938.2 707.5h0M931.2 759.4h0M943.2 705.5h0M916.6 731.5h0M927.7 750.9h0M947.3 714.2h0M941.6 776.7h0M916.9 717.4h0M930.6 754.9h0M910.7 717.6h0M932.3 711.1h0M936.5 711.6h0M947.6 702.1h0M957.4 695.5h0M935.9 717.2h0M952.5 671.6h0M963.0 681.0h0M928.3 763.4h0M932.1 728.3h0M932.2 766.4h0M933.3 691.6h0M928.3 705.6h0M957.5 689.8h0M925.4 708.1h0M924.5 781.1h0M904.2 725.1h0M920.1 778.7h0M959.4 668.6h0M929.3 773.3h0M928.7 712.2h0M948.7 690.9h0M902.5 705.6h0M903.8 702.4h0M958.4 682.6h0M934.9 694.3h0M939.8 728.0h0M918.6 723.5h0M928.5 724.1h0M937.1 777.0h0M947.1 682.5h0M936.8 728.5h0M909.8 737.4h0M919.2 770.6h0M940.3 686.0h0M935.4 689.2h0M931.9 777.0h0M926.2 754.9h0M925.8 773.4h0M917.7 746.3h0M926.1 732.6h0M933.8 722.9h0M913.4 742.0h0M906.2 710.4h0M937.1 700.7h0M918.6 743.1h0M916.4 727.5h0M949.5 711.9h0M941.5 707.0h0M933.1 705.2h0M952.8 678.4h0M922.4 773.5h0M930.9 734.9h0M908.7 726.6h0M942.2 725.8h0M924.1 726.7h0M921.4 717.1h0M929.6 779.4h0M948.9 699.2h0M935.6 770.8h0M962.5 676.0h0M947.2 718.4h0M929.0 720.7h0M965.8 673.1h0M803.2 282.6h0M804.1 288.1h0M797.6 278.1h0M807.0 289.4h0M806.0 284.1h0M797.3 284.1h0M801.1 281.9h0M793.6 282.8h0M472.3 568.1h0M469.9 591.8h0M443.9 556.7h0M457.9 588.0h0M475.1 562.5h0M482.6 588.7h0M441.7 586.1h0M443.5 576.5h0M487.1 581.4h0M472.9 591.0h0M491.4 575.5h0M434.0 552.5h0M436.2 554.2h0M465.9 570.4h0M479.5 588.7h0M480.1 569.6h0M455.4 589.3h0M467.1 556.9h0M458.4 553.0h0M469.0 565.2h0M447.1 553.4h0M450.3 590.5h0M466.4 551.7h0M460.1 590.1h0M453.3 567.1h0M470.6 562.0h0M441.3 553.0h0M445.4 569.8h0M453.7 571.3h0M438.4 556.3h0M450.7 554.3h0M445.2 582.4h0M456.3 566.7h0M469.7 588.8h0M450.7 578.4h0M487.2 574.3h0M451.3 586.0h0M445.1 566.2h0M747.5 174.5h0M744.5 182.5h0M690.5 195.5h0M697.5 200.5h0M710.5 210.0h0M710.0 210.0h0M708.0 222.0h0M713.3 225.3h0M717.3 226.7h0M710.7 230.7h0M714.7 234.7h0M718.7 236.0h0M708.0 237.3h0M702.7 229.3h0M702.7 244.0h0M702.7 253.3h0M702.7 260.0h0M701.3 267.3h0M744.7 182.7h0M747.3 174.0h0M808.0 309.3h0M817.3 310.0h0M821.3 310.7h0M812.0 316.0h0M769.0 200.5h0M747.5 247.5h0M744.0 228.0h0M772.0 222.0h0M782.0 221.0h0M783.0 232.0h0M776.5 234.0h0M781.0 237.0h0M780.0 242.0h0M783.0 246.0h0M788.0 241.0h0M791.5 236.0h0M794.0 243.0h0M774.0 242.0h0M813.0 266.5h0M810.0 272.0h0M804.0 258.0h0M785.5 283.5h0M756.5 281.5h0M774.5 287.0h0M800.0 302.0h0M804.0 296.0h0M812.0 306.0h0M680.0 194.0h0M679.0 197.0h0M677.0 199.5h0M678.0 203.0h0M684.0 204.0h0M683.5 208.5h0M674.0 208.5h0M676.5 214.5h0M678.5 217.0h0M674.0 221.0h0M672.0 225.0h0M674.5 227.0h0M671.0 233.0h0M676.0 229.0h0M680.0 230.0h0M682.0 232.5h0M664.0 235.0h0M660.0 238.0h0M658.0 241.5h0M656.0 246.0h0M651.0 245.5h0M644.0 247.0h0M640.0 244.0h0M635.0 242.0h0M633.5 244.5h0M638.0 246.0h0M665.0 240.0h0M669.0 240.0h0M673.0 241.0h0M679.0 240.0h0M666.0 246.0h0M666.0 251.0h0M670.0 252.0h0M674.0 248.0h0M678.0 248.0h0M679.0 251.0h0M687.0 239.0h0M690.5 234.0h0M695.0 230.0h0M686.0 247.0h0M693.0 250.0h0M694.0 244.0h0M696.0 240.0h0M698.0 236.0h0M702.5 229.5h0M700.0 234.0h0M703.0 244.0h0M708.0 238.0h0M710.0 230.0h0M709.0 222.0h0M713.0 225.0h0M716.0 227.0h0M716.0 235.0h0M719.0 236.0h0M702.5 253.5h0M695.5 260.0h0M703.5 260.0h0M700.5 267.5h0M690.5 195.5h0M697.5 200.5h0M710.5 210.0h0M719.5 214.0h0M602.0 232.0h0M606.0 233.0h0M610.0 235.0h0M613.0 236.0h0M610.0 239.5h0M616.0 240.5h0M619.5 240.5h0M602.0 236.0h0M532.7 232.0h0M530.0 236.0h0M550.0 248.7h0M555.7 250.7h0M560.0 246.0h0M565.3 249.3h0M568.7 244.0h0M573.3 240.0h0M578.7 242.0h0M573.3 248.0h0M577.3 248.7h0M586.0 248.7h0M590.0 245.6h0M596.3 245.1h0M600.7 236.0h0M610.7 239.3h0M649.3 245.3h0M654.7 248.0h0M920.6 395.6h0M422.5 443.8h0M424.4 440.6h0M416.9 440.6h0M406.9 411.2h0M407.5 416.2h0M412.5 418.8h0M416.9 418.1h0M420.6 415.6h0M426.2 415.0h0M430.6 418.1h0M434.4 415.6h0M438.1 415.6h0M443.8 414.4h0M423.8 421.9h0M444.4 394.4h0M446.2 401.2h0M452.5 392.5h0M455.6 389.4h0M443.8 408.1h0M447.5 409.4h0M451.2 411.2h0M455.0 412.5h0M456.2 415.0h0M441.2 435.6h0M468.1 434.4h0M505.0 393.8h0M506.9 398.8h0M509.4 401.2h0M511.9 414.4h0M521.2 421.9h0M510.0 425.0h0M513.1 429.4h0M511.9 435.0h0M480.6 472.5h0M493.1 471.2h0M489.4 475.6h0M491.2 481.2h0M492.5 486.2h0M496.9 464.4h0M516.9 465.0h0M523.1 472.5h0M524.4 485.0h0M588.8 397.5h0M587.5 401.2h0M591.2 409.4h0M597.5 409.4h0M603.8 413.8h0M609.4 415.6h0M590.6 418.1h0M595.6 421.2h0M595.6 426.9h0M601.2 425.0h0M605.0 426.9h0M586.2 428.1h0M611.9 431.2h0M618.8 432.5h0M624.4 433.1h0M625.0 436.9h0M635.0 434.4h0M636.9 438.1h0M631.9 442.5h0M626.2 446.2h0M623.1 452.5h0M637.5 455.0h0M643.1 452.5h0M649.4 459.4h0M642.5 426.9h0M645.0 431.2h0M642.5 434.4h0M646.2 428.8h0M654.4 425.6h0M655.0 431.2h0M658.8 435.0h0M658.1 447.5h0M655.0 453.8h0M657.5 457.5h0M655.6 462.5h0M606.9 436.9h0M610.0 442.5h0M612.5 445.0h0M610.0 448.8h0M608.8 453.1h0M613.8 440.0h0M618.8 440.0h0M616.2 447.5h0M615.0 451.9h0M591.9 441.9h0M596.2 443.8h0M597.5 447.5h0M595.0 450.0h0M585.6 451.9h0M583.8 455.0h0M585.0 458.1h0M582.5 461.9h0M590.0 460.0h0M593.8 457.5h0M597.5 460.0h0M601.2 462.5h0M605.0 460.0h0M612.5 461.2h0M605.6 466.9h0M602.5 467.5h0M596.2 470.0h0M617.5 466.2h0M621.2 464.4h0M626.2 466.2h0M627.5 460.0h0M631.2 460.0h0M633.8 465.0h0M636.2 460.0h0M638.8 466.2h0M642.5 463.8h0M635.0 462.5h0M559.4 469.4h0M552.5 470.0h0M547.5 472.5h0M546.2 475.6h0M538.8 478.8h0M535.0 476.2h0M536.2 485.0h0M530.6 481.2h0M525.0 485.0h0M526.2 490.0h0M530.0 488.8h0M533.8 493.8h0M534.4 496.2h0M525.0 495.0h0M522.5 498.8h0M517.5 502.5h0M522.5 506.2h0M522.5 508.8h0M511.2 508.8h0M517.5 513.8h0M522.5 515.0h0M528.8 515.0h0M533.8 512.5h0M541.2 490.0h0M543.8 493.8h0M548.8 495.0h0M552.5 497.5h0M555.6 491.9h0M560.6 493.8h0M563.8 499.4h0M550.6 483.1h0M555.0 482.5h0M560.0 486.2h0M563.8 481.2h0M566.2 485.0h0M540.0 503.8h0M543.8 506.2h0M548.8 502.5h0M550.0 508.8h0M555.0 518.1h0M561.2 519.4h0M572.5 503.1h0M575.0 501.9h0M511.2 400.0h0M511.9 413.8h0M521.2 421.9h0M511.2 425.0h0M513.1 428.8h0M511.9 435.0h0M526.2 438.1h0M522.5 441.2h0M519.4 443.8h0M526.9 448.1h0M546.2 441.2h0M570.6 437.5h0M576.2 446.2h0M566.9 456.2h0M567.5 460.0h0M516.9 465.0h0M528.1 466.9h0M523.8 471.9h0M521.9 473.8h0M640.5 417.5h0M654.5 426.0h0M660.5 428.0h0M643.0 430.0h0M655.0 432.0h0M660.0 435.0h0M664.0 438.0h0M668.0 439.0h0M658.5 447.5h0M668.0 448.5h0M643.5 453.0h0M655.0 453.0h0M650.0 459.5h0M656.0 461.0h0M660.0 460.0h0M666.0 458.0h0M666.0 463.5h0M670.0 454.5h0M642.0 464.5h0M721.0 496.0h0M733.5 519.0h0M423.8 558.8h0M433.8 557.5h0M427.5 565.6h0M432.5 566.2h0M430.0 571.2h0M436.2 570.0h0M442.5 566.2h0M440.0 572.5h0M431.2 576.2h0M435.0 578.8h0M447.5 575.0h0M445.0 571.9h0M432.5 582.5h0M438.8 581.2h0M437.5 587.5h0M443.8 582.5h0M448.8 583.8h0M452.5 585.0h0M445.0 591.2h0M448.8 590.0h0M453.8 590.0h0M458.8 593.8h0M462.5 591.2h0M467.5 583.1h0M473.8 576.2h0M475.0 583.1h0M470.0 590.0h0M472.5 592.5h0M478.8 590.0h0M482.5 588.8h0M486.9 592.5h0M481.9 581.9h0M490.0 580.0h0M492.5 586.2h0M500.0 582.5h0M495.0 575.0h0M496.2 571.2h0M490.0 567.5h0M485.0 566.2h0M483.8 562.5h0M477.5 571.2h0M471.2 567.5h0M472.5 562.5h0M475.0 566.2h0M470.0 561.2h0M463.8 571.2h0M465.0 572.5h0M455.0 578.8h0M446.2 545.0h0M443.8 548.1h0M455.0 543.1h0M458.1 538.1h0M461.2 543.1h0M456.2 546.2h0M464.4 550.0h0M467.5 551.2h0M468.8 543.8h0M470.6 537.5h0M475.0 531.2h0M477.5 536.2h0M473.8 548.8h0M476.2 552.5h0M475.0 556.9h0M480.0 560.0h0M464.4 556.2h0M471.9 515.0h0M476.9 523.1h0M486.2 520.6h0M491.2 522.5h0M495.0 517.5h0M496.2 528.8h0M502.5 527.5h0M507.5 527.5h0M501.2 522.5h0M506.2 517.5h0M510.0 516.2h0M505.0 508.8h0M511.2 508.8h0M516.2 502.5h0M521.2 502.5h0M522.5 508.8h0M517.5 515.0h0M521.2 517.5h0M518.8 522.5h0M523.8 520.0h0M527.5 526.2h0M531.2 516.2h0M533.8 512.5h0M527.5 512.5h0M525.0 493.8h0M525.0 486.2h0M530.0 482.5h0M533.8 492.5h0M533.8 496.2h0M540.0 482.5h0M542.5 490.0h0M547.5 493.8h0M552.5 497.5h0M550.0 483.8h0M556.2 483.8h0M561.2 482.5h0M555.0 492.5h0M560.0 493.8h0M563.8 498.8h0M541.2 503.8h0M545.0 506.2h0M548.8 502.5h0M548.8 508.8h0M556.2 518.8h0M560.0 522.5h0M563.8 526.2h0M490.0 482.5h0M491.2 486.2h0M493.8 491.2h0M481.2 492.5h0M505.0 576.2h0M507.5 576.2h0M502.5 575.0h0M555.4 518.8h0M572.1 503.8h0M574.2 502.1h0M563.3 499.6h0M168.1 523.1h0M248.8 493.8h0M241.2 508.8h0M246.2 507.5h0M233.8 503.8h0M208.8 506.9h0M241.2 518.8h0M248.1 517.5h0M266.2 532.5h0M271.2 531.2h0M276.9 530.6h0M282.5 531.2h0M270.0 536.2h0M265.0 538.8h0M235.0 561.9h0M243.8 568.8h0M240.0 572.5h0M151.2 541.2h0M151.2 547.5h0M733.5 520.0h0M733.5 537.5h0M732.0 540.0h0M731.0 549.0h0M735.5 547.0h0M742.5 557.5h0M752.0 562.0h0M756.0 562.5h0M756.0 567.0h0M759.0 570.0h0M762.0 569.0h0M764.0 569.0h0M723.0 567.0h0M729.0 571.0h0M750.0 575.0h0M742.5 586.0h0M756.0 589.0h0M776.5 566.5h0M780.5 569.5h0M784.5 564.0h0M912.9 575.8h0M912.9 584.6h0M912.1 589.2h0M898.3 590.8h0M901.7 597.1h0M909.2 547.5h0M929.2 640.8h0M947.5 651.7h0M946.7 660.0h0M955.0 655.0h0M928.3 671.7h0M943.3 670.0h0M949.2 666.7h0M940.0 681.7h0M933.3 681.7h0M934.2 685.0h0M945.8 679.2h0M951.7 685.0h0M948.3 686.7h0M910.0 690.0h0M896.7 696.7h0M900.0 701.7h0M898.3 706.7h0M905.0 706.7h0M910.0 710.0h0M913.3 705.0h0M900.0 715.0h0M901.7 720.0h0M902.5 723.3h0M910.0 716.7h0M926.7 700.0h0M931.7 695.0h0M936.7 695.0h0M940.0 690.8h0M936.7 705.0h0M938.3 706.7h0M930.0 710.8h0M935.0 718.3h0M938.3 716.7h0M933.3 723.3h0M915.0 728.3h0M921.7 728.3h0M947.5 720.0h0M910.8 755.0h0M947.5 785.0h0M968.3 784.2h0M974.2 783.3h0M918.3 785.0h0M925.0 783.3h0M940.0 782.5h0M1046.7 740.0h0M1035.8 755.0h0M960.0 631.7h0M976.7 631.7h0M980.8 627.5h0M304.7 859.0h0M338.5 856.7h0M329.5 862.7h0M334.0 862.0h0M367.0 864.2h0M383.5 859.7h0M392.5 871.7h0M396.2 862.0h0M403.7 860.5h0M403.7 844.7h0M398.5 850.0h0M410.5 806.5h0M403.0 779.5h0M397.0 766.0h0M316.0 754.0h0M316.0 767.5h0M403.8 779.5h0M410.3 806.6h0M430.3 838.5h0M419.5 851.0h0M420.6 856.4h0M426.0 859.7h0M422.8 864.0h0M431.4 859.7h0M434.7 860.8h0M433.6 867.8h0M439.0 868.3h0M442.3 866.7h0M439.0 854.3h0M441.2 857.5h0M452.0 864.0h0M403.8 845.0h0M403.8 860.2h0M401.1 849.9h0M401.1 838.0h0M404.3 837.5h0M411.9 834.8h0M417.3 834.8h0M419.5 840.2h0M422.8 840.2h0M495.3 884.6h0M483.4 861.3h0M415.2 827.2h0M594.0 666.0h0M654.0 660.5h0M572.5 757.0h0M596.2 713.8h0M601.2 718.8h0M610.8 783.8h0M710.5 722.5h0M791.2 785.5h0M727.5 846.2h0M496.3 907.9h0M508.2 909.7h0M495.6 884.7h0M641.4 908.6h0M641.4 915.5h0M664.2 918.8h0M670.2 921.4h0M527.7 988.1h0M628.4 876.5h0M774.2 632.1h0M900.9 430.4h0M734.8 845.2h0M739.0 843.2h0M743.2 841.0h0M736.8 849.8h0M730.2 854.0h0M726.0 856.2h0"/>
<path fill="none" stroke="#9D77EC" stroke-width="5.8" stroke-linecap="round" d="M493.8 353.8h0M411.2 391.2h0M510.6 449.4h0M711.0 456.5h0M710.5 466.2h0M487.5 506.2h0M166.9 529.4h0M1040.3 665.8h0M350.5 719.2h0M331.4 733.7h0M337.0 739.3h0M344.0 741.5h0M327.4 756.4h0M360.5 766.0h0M364.3 768.2h0M400.0 781.4h0M314.0 781.4h0M328.3 780.1h0M332.6 788.9h0M318.8 792.5h0M304.4 814.7h0M332.9 823.3h0M310.0 828.1h0M332.6 834.2h0M311.2 845.2h0M315.5 851.9h0M328.3 853.1h0M454.2 856.1h0M459.8 852.8h0M498.3 870.5h0M510.5 874.6h0M642.7 655.3h0M656.6 916.8h0M533.3 991.3h0M525.3 1012.1h0"/>
<path fill="none" stroke="#6A45F7" stroke-width="5.8" stroke-linecap="round" d="M705.5 464.0h0"/>
<path fill="none" stroke="#643CF8" stroke-width="5.8" stroke-linecap="round" d="M713.2 587.8h0"/>
<path fill="none" stroke="#0000FF" stroke-width="5.8" stroke-linecap="round" d="M734.3 597.8h0"/>
<text x="606.3" y="37.3" font-family="&quot;Liberation Sans&quot;, sans-serif" font-weight="bold" font-size="34" text-anchor="middle" fill="#000">2010310C07Rik</text>
<line x1="95.5" y1="51" x2="95.5" y2="1121" stroke="#000" stroke-width="3"/>
<line x1="94" y1="1119.5" x2="1118" y2="1119.5" stroke="#000" stroke-width="3"/>
<line x1="141.75" y1="1121" x2="141.75" y2="1124.8" stroke="#000" stroke-width="3"/>
<text x="141.75" y="1147.6" font-family="&quot;Liberation Sans&quot;, sans-serif" font-size="31" text-anchor="middle" fill="#000">-15</text>
<line x1="307.50" y1="1121" x2="307.50" y2="1124.8" stroke="#000" stroke-width="3"/>
<text x="307.50" y="1147.6" font-family="&quot;Liberation Sans&quot;, sans-serif" font-size="31" text-anchor="middle" fill="#000">-10</text>
<line x1="473.25" y1="1121" x2="473.25" y2="1124.8" stroke="#000" stroke-width="3"/>
<text x="473.25" y="1147.6" font-family="&quot;Liberation Sans&quot;, sans-serif" font-size="31" text-anchor="middle" fill="#000">-5</text>
<line x1="639.00" y1="1121" x2="639.00" y2="1124.8" stroke="#000" stroke-width="3"/>
<text x="639.00" y="1147.6" font-family="&quot;Liberation Sans&quot;, sans-serif" font-size="31" text-anchor="middle" fill="#000">0</text>
<line x1="804.75" y1="1121" x2="804.75" y2="1124.8" stroke="#000" stroke-width="3"/>
<text x="804.75" y="1147.6" font-family="&quot;Liberation Sans&quot;, sans-serif" font-size="31" text-anchor="middle" fill="#000">5</text>
<line x1="970.50" y1="1121" x2="970.50" y2="1124.8" stroke="#000" stroke-width="3"/>
<text x="970.50" y="1147.6" font-family="&quot;Liberation Sans&quot;, sans-serif" font-size="31" text-anchor="middle" fill="#000">10</text>
<line x1="90.2" y1="277.25" x2="94" y2="277.25" stroke="#000" stroke-width="3"/>
<text x="88.2" y="288.05" font-family="&quot;Liberation Sans&quot;, sans-serif" font-size="31" text-anchor="end" fill="#000">10</text>
<line x1="90.2" y1="571.05" x2="94" y2="571.05" stroke="#000" stroke-width="3"/>
<text x="88.2" y="581.85" font-family="&quot;Liberation Sans&quot;, sans-serif" font-size="31" text-anchor="end" fill="#000">0</text>
<line x1="90.2" y1="864.85" x2="94" y2="864.85" stroke="#000" stroke-width="3"/>
<text x="88.2" y="875.65" font-family="&quot;Liberation Sans&quot;, sans-serif" font-size="31" text-anchor="end" fill="#000">-10</text>
<text x="604" y="1180.7" font-family="&quot;Liberation Sans&quot;, sans-serif" font-size="30" text-anchor="middle" fill="#000">umapNC_1</text>
<text transform="translate(34.3,585.7) rotate(-90)" x="0" y="0" font-family="&quot;Liberation Sans&quot;, sans-serif" font-size="30" text-anchor="middle" fill="#000">umapNC_2</text>
<defs><linearGradient id="lg" x1="0" y1="1" x2="0" y2="0"><stop offset="0.0" stop-color="#D3D3D3"/><stop offset="0.1" stop-color="#CAC0D9"/><stop offset="0.2" stop-color="#C1AEDE"/><stop offset="0.3" stop-color="#B69CE3"/><stop offset="0.4" stop-color="#AA89E7"/><stop offset="0.5" stop-color="#9D77EC"/><stop offset="0.6" stop-color="#8E65F0"/><stop offset="0.7" stop-color="#7C51F4"/><stop offset="0.8" stop-color="#673DF8"/><stop offset="0.9" stop-color="#4926FB"/><stop offset="1.0" stop-color="#0000FF"/></linearGradient></defs>
<rect x="1130.2" y="547.8" width="15.3" height="76.2" fill="url(#lg)"/>
<line x1="1130.2" y1="569.0" x2="1133.3" y2="569.0" stroke="#fff" stroke-width="0.6"/>
<line x1="1142.4" y1="569.0" x2="1145.5" y2="569.0" stroke="#fff" stroke-width="0.6"/>
<line x1="1130.2" y1="596.3" x2="1133.3" y2="596.3" stroke="#fff" stroke-width="0.6"/>
<line x1="1142.4" y1="596.3" x2="1145.5" y2="596.3" stroke="#fff" stroke-width="0.6"/>
<text x="1154.6" y="578.1" font-family="&quot;Liberation Sans&quot;, sans-serif" font-size="25" fill="#000">1.0</text>
<text x="1154.6" y="605.4" font-family="&quot;Liberation Sans&quot;, sans-serif" font-size="25" fill="#000">0.5</text>
<text x="1154.6" y="632.7" font-family="&quot;Liberation Sans&quot;, sans-serif" font-size="25" fill="#000">0.0</text>
</svg></body></html>
